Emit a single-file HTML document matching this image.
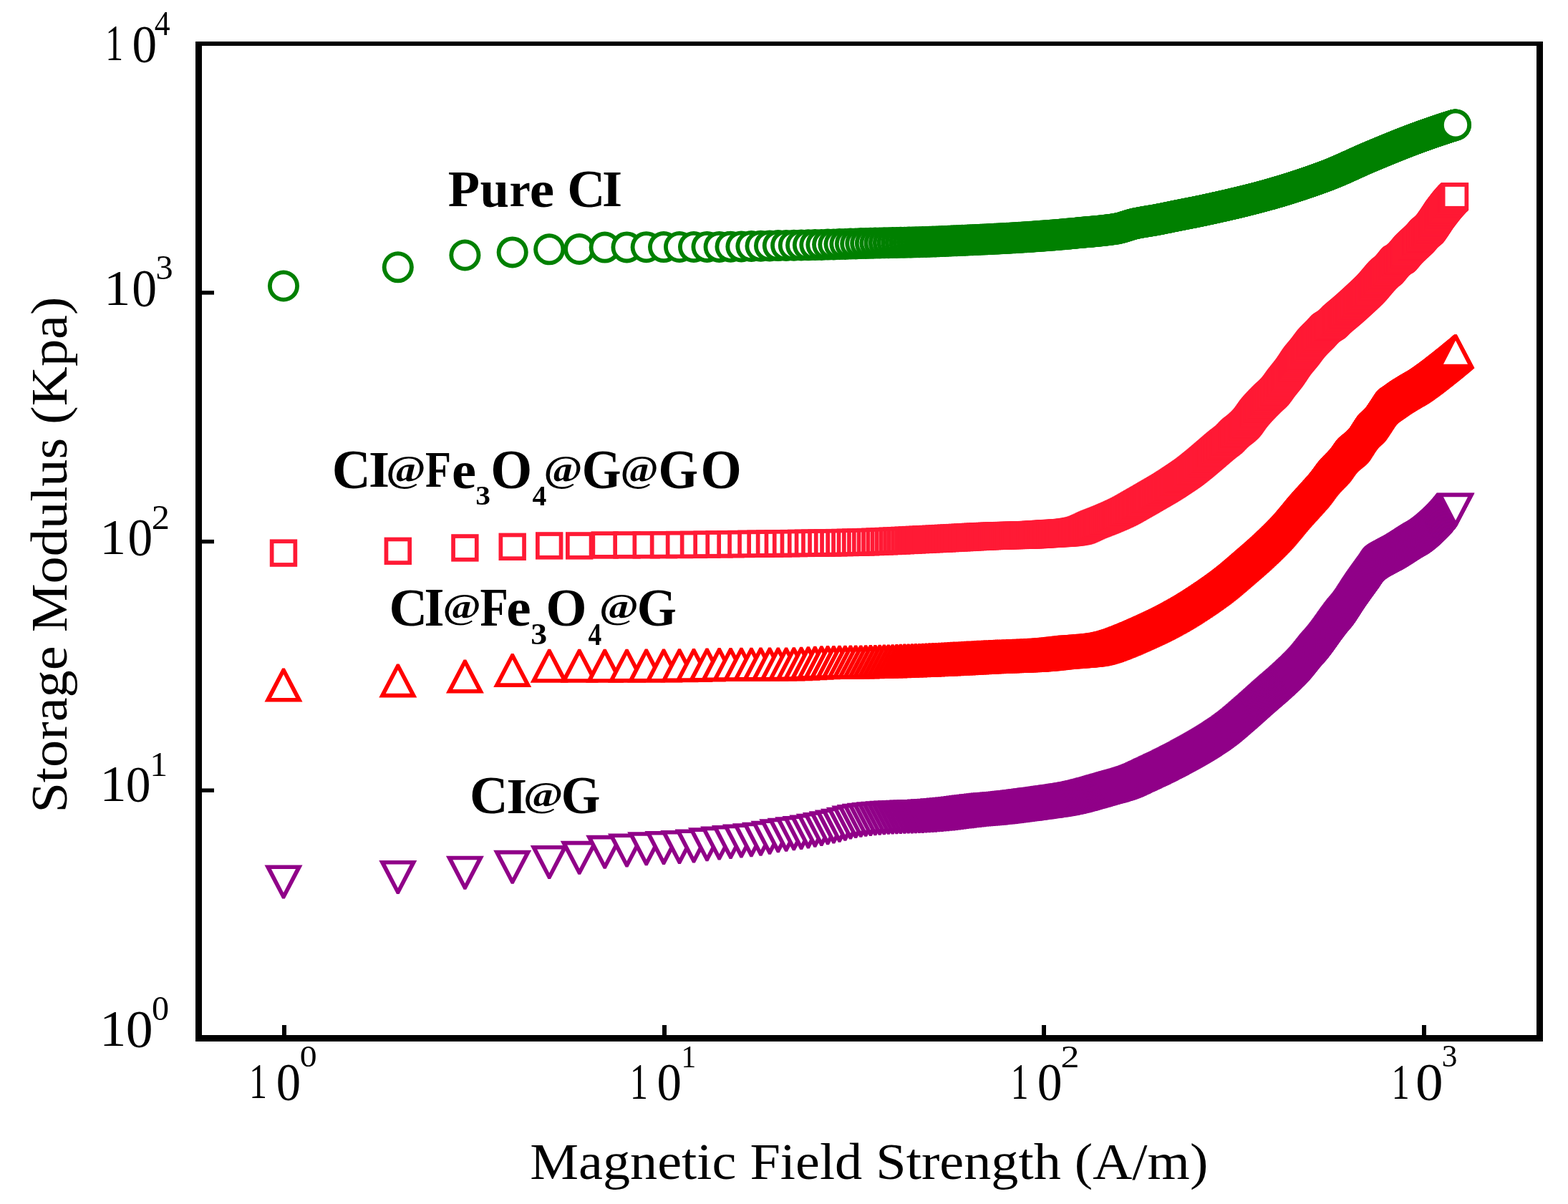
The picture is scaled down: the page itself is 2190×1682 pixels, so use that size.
<!DOCTYPE html>
<html><head><meta charset="utf-8"><title>Storage Modulus vs Magnetic Field Strength</title>
<style>html,body{margin:0;padding:0;background:#fff;}body{width:2190px;height:1682px;overflow:hidden;}svg{display:block;}</style>
</head><body>
<svg width="2190" height="1682" viewBox="0 0 2190 1682" font-family="'Liberation Serif', 'Times New Roman', serif">
<defs><marker id="mc" markerUnits="userSpaceOnUse" viewBox="-40 -40 80 80" markerWidth="80" markerHeight="80" refX="0" refY="0" orient="0" overflow="visible"><circle r="22.0" fill="#008000"/><circle r="16.2" fill="#fff"/></marker><marker id="ms" markerUnits="userSpaceOnUse" viewBox="-40 -40 80 80" markerWidth="80" markerHeight="80" refX="0" refY="0" orient="0" overflow="visible"><rect x="-19.2" y="-19.2" width="38.4" height="38.4" fill="#ff1a35"/><rect x="-13.5" y="-13.5" width="27.0" height="27.0" fill="#fff"/></marker><marker id="mu" markerUnits="userSpaceOnUse" viewBox="-40 -40 80 80" markerWidth="80" markerHeight="80" refX="0" refY="0" orient="0" overflow="visible"><path d="M-1.80 -23.50 L1.80 -23.50 L26.50 23.50 L-26.50 23.50Z" fill="#ff0000"/><path d="M0 -15.00 L17.00 17.90 L-17.00 17.90Z" fill="#fff"/></marker><marker id="md" markerUnits="userSpaceOnUse" viewBox="-40 -40 80 80" markerWidth="80" markerHeight="80" refX="0" refY="0" orient="0" overflow="visible"><path d="M-1.80 23.50 L1.80 23.50 L26.50 -23.50 L-26.50 -23.50Z" fill="#900088"/><path d="M0 15.00 L17.00 -17.90 L-17.00 -17.90Z" fill="#fff"/></marker></defs>
<rect width="2190" height="1682" fill="#fff"/>
<path d="M396.0 399.5 555.8 373.3 649.4 356.5 715.7 352.4 767.2 348.3 809.2 348.0 844.7 345.6 875.5 345.4 902.7 345.2 927.0 345.1 949.0 345.0 969.0 345.0 987.5 344.9 1004.6 344.9 1020.5 344.7 1035.4 344.4 1049.4 344.0 1062.5 343.7 1075.0 343.4 1086.8 343.1 1098.1 342.9 1108.8 342.7 1119.1 342.5 1128.9 342.3 1138.3 342.1 1147.4 341.9 1156.1 341.6 1164.4 341.4 1172.5 341.1 1180.4 340.9 1187.9 340.6 1195.2 340.4 1202.3 340.1 1209.2 339.9 1215.9 339.8 1222.4 339.6 1228.7 339.5 1234.9 339.3 1240.9 339.2 1246.7 339.1 1252.4 339.0 1257.9 338.8 1263.4 338.7 1268.7 338.6 1273.9 338.5 1278.9 338.3 1283.9 338.2 1288.7 338.0 1293.5 337.9 1298.2 337.7 1302.7 337.6 1307.2 337.4 1311.6 337.2 1315.9 337.0 1320.1 336.9 1324.3 336.7 1328.4 336.5 1332.4 336.3 1336.3 336.2 1340.2 336.0 1344.0 335.8 1347.8 335.7 1351.4 335.5 1355.1 335.3 1358.7 335.2 1362.2 335.0 1365.6 334.9 1369.1 334.7 1372.4 334.5 1375.7 334.4 1379.0 334.2 1382.2 334.1 1385.4 333.9 1388.6 333.8 1391.7 333.6 1394.7 333.4 1397.7 333.3 1400.7 333.1 1403.6 333.0 1406.5 332.8 1409.4 332.7 1412.2 332.5 1415.0 332.3 1417.8 332.2 1420.5 332.0 1423.2 331.8 1425.9 331.7 1428.5 331.5 1431.1 331.3 1433.7 331.2 1436.3 331.0 1438.8 330.8 1441.3 330.7 1443.7 330.5 1446.2 330.3 1448.6 330.1 1451.0 330.0 1453.3 329.8 1455.7 329.6 1458.0 329.4 1460.3 329.3 1462.6 329.1 1464.8 328.9 1467.0 328.7 1469.3 328.6 1471.4 328.4 1473.6 328.2 1475.7 328.0 1477.9 327.9 1480.0 327.7 1482.1 327.5 1484.1 327.3 1486.2 327.2 1488.2 327.0 1490.2 326.8 1492.2 326.6 1494.2 326.4 1496.2 326.2 1498.1 326.0 1500.0 325.9 1502.0 325.7 1503.9 325.5 1505.7 325.3 1507.6 325.1 1509.5 325.0 1511.3 324.8 1513.1 324.6 1514.9 324.5 1516.7 324.3 1518.5 324.1 1520.3 324.0 1522.0 323.8 1523.8 323.7 1525.5 323.5 1527.2 323.4 1528.9 323.2 1530.6 323.0 1532.3 322.9 1533.9 322.7 1535.6 322.5 1537.2 322.4 1538.9 322.2 1540.5 322.0 1542.1 321.8 1543.7 321.7 1545.3 321.5 1546.8 321.3 1548.4 321.1 1550.0 320.9 1551.5 320.7 1553.0 320.5 1554.6 320.3 1556.1 320.0 1557.6 319.8 1559.1 319.6 1560.5 319.3 1562.0 319.0 1563.5 318.7 1564.9 318.3 1566.4 317.9 1567.8 317.5 1569.3 317.1 1570.7 316.6 1572.1 316.2 1573.5 315.7 1574.9 315.3 1576.3 314.8 1577.6 314.4 1579.0 314.0 1580.4 313.6 1581.7 313.2 1583.1 312.9 1584.4 312.5 1585.7 312.2 1587.1 312.0 1588.4 311.7 1589.7 311.4 1591.0 311.2 1592.3 310.9 1593.5 310.7 1594.8 310.5 1596.1 310.3 1597.4 310.0 1598.6 309.8 1599.9 309.6 1601.1 309.4 1602.3 309.2 1603.6 309.0 1604.8 308.8 1606.0 308.6 1607.2 308.4 1608.4 308.2 1609.6 308.0 1610.8 307.8 1612.0 307.6 1613.2 307.4 1614.4 307.2 1615.5 307.0 1616.7 306.8 1617.8 306.5 1619.0 306.3 1620.1 306.1 1621.3 305.9 1622.4 305.6 1623.5 305.4 1624.7 305.2 1625.8 305.0 1626.9 304.7 1628.0 304.5 1629.1 304.3 1630.2 304.1 1631.3 303.8 1632.4 303.6 1633.4 303.4 1634.5 303.2 1635.6 302.9 1636.7 302.7 1637.7 302.5 1638.8 302.3 1639.8 302.1 1640.9 301.8 1641.9 301.6 1642.9 301.4 1644.0 301.2 1645.0 301.0 1646.0 300.8 1647.0 300.6 1648.1 300.4 1649.1 300.2 1650.1 300.0 1651.1 299.8 1652.1 299.6 1653.1 299.4 1654.1 299.2 1655.0 299.0 1656.0 298.8 1657.0 298.6 1658.0 298.4 1658.9 298.3 1659.9 298.1 1660.9 297.9 1661.8 297.7 1662.8 297.5 1663.7 297.3 1664.6 297.1 1665.6 297.0 1666.5 296.8 1667.5 296.6 1668.4 296.4 1669.3 296.2 1670.2 296.0 1671.1 295.8 1672.1 295.7 1673.0 295.5 1673.9 295.3 1674.8 295.1 1675.7 294.9 1676.6 294.7 1677.5 294.5 1678.4 294.4 1679.2 294.2 1680.1 294.0 1681.0 293.8 1681.9 293.6 1682.7 293.4 1683.6 293.2 1684.5 293.0 1685.3 292.8 1686.2 292.7 1687.1 292.5 1687.9 292.3 1688.8 292.1 1689.6 291.9 1690.4 291.7 1691.3 291.6 1692.1 291.4 1693.0 291.2 1693.8 291.0 1694.6 290.8 1695.4 290.6 1696.3 290.5 1697.1 290.3 1697.9 290.1 1698.7 289.9 1699.5 289.7 1700.3 289.6 1701.1 289.4 1701.9 289.2 1702.7 289.0 1703.5 288.8 1704.3 288.7 1705.1 288.5 1705.9 288.3 1706.7 288.1 1707.5 288.0 1708.3 287.8 1709.0 287.6 1709.8 287.4 1710.6 287.3 1711.4 287.1 1712.1 286.9 1712.9 286.7 1713.6 286.6 1714.4 286.4 1715.2 286.2 1715.9 286.0 1716.7 285.9 1717.4 285.7 1718.2 285.5 1718.9 285.3 1719.7 285.2 1720.4 285.0 1721.1 284.8 1721.9 284.6 1722.6 284.5 1723.3 284.3 1724.1 284.1 1724.8 284.0 1725.5 283.8 1726.2 283.6 1727.0 283.4 1727.7 283.3 1728.4 283.1 1729.1 282.9 1729.8 282.8 1730.5 282.6 1731.2 282.4 1731.9 282.2 1732.6 282.1 1733.3 281.9 1734.0 281.7 1734.7 281.6 1735.4 281.4 1736.1 281.2 1736.8 281.1 1737.5 280.9 1738.2 280.7 1738.9 280.6 1739.5 280.4 1740.2 280.2 1740.9 280.0 1741.6 279.9 1742.2 279.7 1742.9 279.5 1743.6 279.4 1744.2 279.2 1744.9 279.0 1745.6 278.9 1746.2 278.7 1746.9 278.5 1747.6 278.4 1748.2 278.2 1748.9 278.0 1749.5 277.9 1750.2 277.7 1750.8 277.5 1751.5 277.4 1752.1 277.2 1752.8 277.0 1753.4 276.9 1754.0 276.7 1754.7 276.5 1755.3 276.4 1755.9 276.2 1756.6 276.0 1757.2 275.9 1757.8 275.7 1758.5 275.5 1759.1 275.4 1759.7 275.2 1760.3 275.0 1761.0 274.9 1761.6 274.7 1762.2 274.5 1762.8 274.4 1763.4 274.2 1764.0 274.0 1764.6 273.9 1765.3 273.7 1765.9 273.5 1766.5 273.4 1767.1 273.2 1767.7 273.0 1768.3 272.9 1768.9 272.7 1769.5 272.5 1770.1 272.4 1770.7 272.2 1771.3 272.0 1771.9 271.9 1772.4 271.7 1773.0 271.6 1773.6 271.4 1774.2 271.2 1774.8 271.1 1775.4 270.9 1776.0 270.7 1776.5 270.6 1777.1 270.4 1777.7 270.2 1778.3 270.1 1778.8 269.9 1779.4 269.7 1780.0 269.6 1780.6 269.4 1781.1 269.2 1781.7 269.1 1782.3 268.9 1782.8 268.7 1783.4 268.6 1784.0 268.4 1784.5 268.2 1785.1 268.1 1785.6 267.9 1786.2 267.8 1786.7 267.6 1787.3 267.4 1787.8 267.3 1788.4 267.1 1788.9 266.9 1789.5 266.8 1790.0 266.6 1790.6 266.4 1791.1 266.3 1791.7 266.1 1792.2 265.9 1792.8 265.8 1793.3 265.6 1793.8 265.5 1794.4 265.3 1794.9 265.1 1795.4 265.0 1796.0 264.8 1796.5 264.6 1797.0 264.5 1797.6 264.3 1798.1 264.1 1798.6 264.0 1799.1 263.8 1799.7 263.6 1800.2 263.5 1800.7 263.3 1801.2 263.2 1801.8 263.0 1802.3 262.8 1802.8 262.7 1803.3 262.5 1803.8 262.3 1804.3 262.2 1804.9 262.0 1805.4 261.9 1805.9 261.7 1806.4 261.5 1806.9 261.4 1807.4 261.2 1807.9 261.0 1808.4 260.9 1808.9 260.7 1809.4 260.5 1809.9 260.4 1810.4 260.2 1810.9 260.1 1811.4 259.9 1811.9 259.7 1812.4 259.6 1812.9 259.4 1813.4 259.2 1813.9 259.1 1814.4 258.9 1814.9 258.8 1815.4 258.6 1815.9 258.4 1816.4 258.3 1816.8 258.1 1817.3 258.0 1817.8 257.8 1818.3 257.6 1818.8 257.5 1819.3 257.3 1819.7 257.1 1820.2 257.0 1820.7 256.8 1821.2 256.7 1821.7 256.5 1822.1 256.3 1822.6 256.2 1823.1 256.0 1823.6 255.9 1824.0 255.7 1824.5 255.5 1825.0 255.4 1825.4 255.2 1825.9 255.1 1826.4 254.9 1826.8 254.7 1827.3 254.6 1827.8 254.4 1828.2 254.3 1828.7 254.1 1829.2 253.9 1829.6 253.8 1830.1 253.6 1830.5 253.5 1831.0 253.3 1831.4 253.1 1831.9 253.0 1832.4 252.8 1832.8 252.7 1833.3 252.5 1833.7 252.3 1834.2 252.2 1834.6 252.0 1835.1 251.9 1835.5 251.7 1836.0 251.5 1836.4 251.4 1836.9 251.2 1837.3 251.1 1837.8 250.9 1838.2 250.8 1838.6 250.6 1839.1 250.4 1839.5 250.3 1840.0 250.1 1840.4 250.0 1840.8 249.8 1841.3 249.6 1841.7 249.5 1842.2 249.3 1842.6 249.2 1843.0 249.0 1843.5 248.9 1843.9 248.7 1844.3 248.5 1844.8 248.4 1845.2 248.2 1845.6 248.1 1846.0 247.9 1846.5 247.8 1846.9 247.6 1847.3 247.4 1847.8 247.3 1848.2 247.1 1848.6 247.0 1849.0 246.8 1849.4 246.7 1849.9 246.5 1850.3 246.3 1850.7 246.2 1851.1 246.0 1851.6 245.9 1852.0 245.7 1852.4 245.6 1852.8 245.4 1853.2 245.3 1853.6 245.1 1854.0 244.9 1854.5 244.8 1854.9 244.6 1855.3 244.5 1855.7 244.3 1856.1 244.1 1856.5 244.0 1856.9 243.8 1857.3 243.7 1857.7 243.5 1858.2 243.3 1858.6 243.2 1859.0 243.0 1859.4 242.9 1859.8 242.7 1860.2 242.5 1860.6 242.4 1861.0 242.2 1861.4 242.0 1861.8 241.9 1862.2 241.7 1862.6 241.5 1863.0 241.4 1863.4 241.2 1863.8 241.1 1864.2 240.9 1864.6 240.7 1865.0 240.6 1865.4 240.4 1865.8 240.2 1866.1 240.1 1866.5 239.9 1866.9 239.7 1867.3 239.6 1867.7 239.4 1868.1 239.2 1868.5 239.1 1868.9 238.9 1869.3 238.7 1869.7 238.6 1870.0 238.4 1870.4 238.2 1870.8 238.1 1871.2 237.9 1871.6 237.7 1872.0 237.6 1872.3 237.4 1872.7 237.2 1873.1 237.1 1873.5 236.9 1873.9 236.7 1874.3 236.6 1874.6 236.4 1875.0 236.2 1875.4 236.1 1875.8 235.9 1876.1 235.7 1876.5 235.6 1876.9 235.4 1877.3 235.2 1877.6 235.1 1878.0 234.9 1878.4 234.7 1878.8 234.6 1879.1 234.4 1879.5 234.2 1879.9 234.1 1880.2 233.9 1880.6 233.7 1881.0 233.6 1881.3 233.4 1881.7 233.2 1882.1 233.1 1882.4 232.9 1882.8 232.7 1883.2 232.6 1883.5 232.4 1883.9 232.2 1884.3 232.1 1884.6 231.9 1885.0 231.7 1885.4 231.6 1885.7 231.4 1886.1 231.3 1886.4 231.1 1886.8 230.9 1887.2 230.8 1887.5 230.6 1887.9 230.4 1888.2 230.3 1888.6 230.1 1888.9 230.0 1889.3 229.8 1889.7 229.6 1890.0 229.5 1890.4 229.3 1890.7 229.1 1891.1 229.0 1891.4 228.8 1891.8 228.7 1892.1 228.5 1892.5 228.3 1892.8 228.2 1893.2 228.0 1893.5 227.9 1893.9 227.7 1894.2 227.6 1894.6 227.4 1894.9 227.2 1895.3 227.1 1895.6 226.9 1896.0 226.8 1896.3 226.6 1896.6 226.5 1897.0 226.3 1897.3 226.1 1897.7 226.0 1898.0 225.8 1898.4 225.7 1898.7 225.5 1899.0 225.4 1899.4 225.2 1899.7 225.1 1900.1 224.9 1900.4 224.8 1900.7 224.6 1901.1 224.5 1901.4 224.3 1901.8 224.2 1902.1 224.0 1902.4 223.9 1902.8 223.7 1903.1 223.6 1903.4 223.4 1903.8 223.3 1904.1 223.1 1904.4 223.0 1904.8 222.8 1905.1 222.7 1905.4 222.5 1905.8 222.4 1906.1 222.2 1906.4 222.1 1906.7 222.0 1907.1 221.8 1907.4 221.7 1907.7 221.5 1908.1 221.4 1908.4 221.2 1908.7 221.1 1909.0 221.0 1909.4 220.8 1909.7 220.7 1910.0 220.5 1910.3 220.4 1910.7 220.3 1911.0 220.1 1911.3 220.0 1911.6 219.8 1912.0 219.7 1912.3 219.6 1912.6 219.4 1912.9 219.3 1913.2 219.2 1913.6 219.0 1913.9 218.9 1914.2 218.8 1914.5 218.6 1914.8 218.5 1915.2 218.4 1915.5 218.2 1915.8 218.1 1916.1 218.0 1916.4 217.8 1916.7 217.7 1917.1 217.6 1917.4 217.4 1917.7 217.3 1918.0 217.2 1918.3 217.0 1918.6 216.9 1918.9 216.8 1919.3 216.7 1919.6 216.5 1919.9 216.4 1920.2 216.3 1920.5 216.1 1920.8 216.0 1921.1 215.9 1921.4 215.7 1921.7 215.6 1922.0 215.5 1922.3 215.4 1922.7 215.2 1923.0 215.1 1923.3 215.0 1923.6 214.9 1923.9 214.7 1924.2 214.6 1924.5 214.5 1924.8 214.3 1925.1 214.2 1925.4 214.1 1925.7 214.0 1926.0 213.8 1926.3 213.7 1926.6 213.6 1926.9 213.5 1927.2 213.3 1927.5 213.2 1927.8 213.1 1928.1 213.0 1928.4 212.8 1928.7 212.7 1929.0 212.6 1929.3 212.5 1929.6 212.3 1929.9 212.2 1930.2 212.1 1930.5 212.0 1930.8 211.8 1931.1 211.7 1931.4 211.6 1931.7 211.5 1932.0 211.4 1932.3 211.2 1932.6 211.1 1932.9 211.0 1933.2 210.9 1933.5 210.7 1933.8 210.6 1934.1 210.5 1934.3 210.4 1934.6 210.3 1934.9 210.1 1935.2 210.0 1935.5 209.9 1935.8 209.8 1936.1 209.7 1936.4 209.5 1936.7 209.4 1937.0 209.3 1937.3 209.2 1937.5 209.1 1937.8 208.9 1938.1 208.8 1938.4 208.7 1938.7 208.6 1939.0 208.5 1939.3 208.4 1939.5 208.2 1939.8 208.1 1940.1 208.0 1940.4 207.9 1940.7 207.8 1941.0 207.7 1941.3 207.5 1941.5 207.4 1941.8 207.3 1942.1 207.2 1942.4 207.1 1942.7 207.0 1943.0 206.8 1943.2 206.7 1943.5 206.6 1943.8 206.5 1944.1 206.4 1944.4 206.3 1944.6 206.2 1944.9 206.0 1945.2 205.9 1945.5 205.8 1945.8 205.7 1946.0 205.6 1946.3 205.5 1946.6 205.4 1946.9 205.3 1947.1 205.1 1947.4 205.0 1947.7 204.9 1948.0 204.8 1948.2 204.7 1948.5 204.6 1948.8 204.5 1949.1 204.4 1949.3 204.3 1949.6 204.1 1949.9 204.0 1950.2 203.9 1950.4 203.8 1950.7 203.7 1951.0 203.6 1951.2 203.5 1951.5 203.4 1951.8 203.3 1952.1 203.2 1952.3 203.1 1952.6 202.9 1952.9 202.8 1953.1 202.7 1953.4 202.6 1953.7 202.5 1954.0 202.4 1954.2 202.3 1954.5 202.2 1954.8 202.1 1955.0 202.0 1955.3 201.9 1955.6 201.8 1955.8 201.7 1956.1 201.6 1956.4 201.5 1956.6 201.3 1956.9 201.2 1957.1 201.1 1957.4 201.0 1957.7 200.9 1957.9 200.8 1958.2 200.7 1958.5 200.6 1958.7 200.5 1959.0 200.4 1959.3 200.3 1959.5 200.2 1959.8 200.1 1960.0 200.0 1960.3 199.9 1960.6 199.8 1960.8 199.7 1961.1 199.6 1961.3 199.5 1961.6 199.4 1961.9 199.3 1962.1 199.2 1962.4 199.1 1962.6 199.0 1962.9 198.9 1963.2 198.8 1963.4 198.7 1963.7 198.6 1963.9 198.5 1964.2 198.4 1964.4 198.3 1964.7 198.2 1965.0 198.1 1965.2 198.0 1965.5 197.9 1965.7 197.8 1966.0 197.7 1966.2 197.6 1966.5 197.5 1966.7 197.4 1967.0 197.3 1967.3 197.2 1967.5 197.1 1967.8 197.0 1968.0 196.9 1968.3 196.8 1968.5 196.7 1968.8 196.6 1969.0 196.5 1969.3 196.4 1969.5 196.3 1969.8 196.2 1970.0 196.1 1970.3 196.0 1970.5 195.9 1970.8 195.8 1971.0 195.8 1971.3 195.7 1971.5 195.6 1971.8 195.5 1972.0 195.4 1972.3 195.3 1972.5 195.2 1972.8 195.1 1973.0 195.0 1973.3 194.9 1973.5 194.8 1973.7 194.7 1974.0 194.6 1974.2 194.5 1974.5 194.5 1974.7 194.4 1975.0 194.3 1975.2 194.2 1975.5 194.1 1975.7 194.0 1976.0 193.9 1976.2 193.8 1976.4 193.7 1976.7 193.6 1976.9 193.5 1977.2 193.5 1977.4 193.4 1977.7 193.3 1977.9 193.2 1978.1 193.1 1978.4 193.0 1978.6 192.9 1978.9 192.8 1979.1 192.7 1979.3 192.7 1979.6 192.6 1979.8 192.5 1980.1 192.4 1980.3 192.3 1980.5 192.2 1980.8 192.1 1981.0 192.0 1981.3 192.0 1981.5 191.9 1981.7 191.8 1982.0 191.7 1982.2 191.6 1982.5 191.5 1982.7 191.4 1982.9 191.3 1983.2 191.3 1983.4 191.2 1983.6 191.1 1983.9 191.0 1984.1 190.9 1984.3 190.8 1984.6 190.7 1984.8 190.7 1985.0 190.6 1985.3 190.5 1985.5 190.4 1985.7 190.3 1986.0 190.2 1986.2 190.2 1986.4 190.1 1986.7 190.0 1986.9 189.9 1987.1 189.8 1987.4 189.7 1987.6 189.7 1987.8 189.6 1988.1 189.5 1988.3 189.4 1988.5 189.3 1988.8 189.2 1989.0 189.2 1989.2 189.1 1989.5 189.0 1989.7 188.9 1989.9 188.8 1990.2 188.7 1990.4 188.7 1990.6 188.6 1990.8 188.5 1991.1 188.4 1991.3 188.3 1991.5 188.3 1991.8 188.2 1992.0 188.1 1992.2 188.0 1992.4 187.9 1992.7 187.9 1992.9 187.8 1993.1 187.7 1993.3 187.6 1993.6 187.5 1993.8 187.5 1994.0 187.4 1994.2 187.3 1994.5 187.2 1994.7 187.1 1994.9 187.1 1995.1 187.0 1995.4 186.9 1995.6 186.8 1995.8 186.7 1996.0 186.7 1996.3 186.6 1996.5 186.5 1996.7 186.4 1996.9 186.4 1997.2 186.3 1997.4 186.2 1997.6 186.1 1997.8 186.0 1998.0 186.0 1998.3 185.9 1998.5 185.8 1998.7 185.7 1998.9 185.7 1999.2 185.6 1999.4 185.5 1999.6 185.4 1999.8 185.3 2000.0 185.3 2000.3 185.2 2000.5 185.1 2000.7 185.0 2000.9 185.0 2001.1 184.9 2001.3 184.8 2001.6 184.7 2001.8 184.7 2002.0 184.6 2002.2 184.5 2002.4 184.4 2002.7 184.4 2002.9 184.3 2003.1 184.2 2003.3 184.1 2003.5 184.1 2003.7 184.0 2004.0 183.9 2004.2 183.8 2004.4 183.8 2004.6 183.7 2004.8 183.6 2005.0 183.6 2005.2 183.5 2005.5 183.4 2005.7 183.3 2005.9 183.3 2006.1 183.2 2006.3 183.1 2006.5 183.0 2006.7 183.0 2007.0 182.9 2007.2 182.8 2007.4 182.8 2007.6 182.7 2007.8 182.6 2008.0 182.5 2008.2 182.5 2008.4 182.4 2008.7 182.3 2008.9 182.2 2009.1 182.2 2009.3 182.1 2009.5 182.0 2009.7 182.0 2009.9 181.9 2010.1 181.8 2010.3 181.8 2010.6 181.7 2010.8 181.6 2011.0 181.5 2011.2 181.5 2011.4 181.4 2011.6 181.3 2011.8 181.3 2012.0 181.2 2012.2 181.1 2012.4 181.0 2012.7 181.0 2012.9 180.9 2013.1 180.8 2013.3 180.8 2013.5 180.7 2013.7 180.6 2013.9 180.6 2014.1 180.5 2014.3 180.4 2014.5 180.4 2014.7 180.3 2014.9 180.2 2015.1 180.2 2015.3 180.1 2015.5 180.0 2015.8 179.9 2016.0 179.9 2016.2 179.8 2016.4 179.7 2016.6 179.7 2016.8 179.6 2017.0 179.5 2017.2 179.5 2017.4 179.4 2017.6 179.3 2017.8 179.3 2018.0 179.2 2018.2 179.1 2018.4 179.1 2018.6 179.0 2018.8 178.9 2019.0 178.9 2019.2 178.8 2019.4 178.7 2019.6 178.7 2019.8 178.6 2020.0 178.5 2020.2 178.5 2020.4 178.4 2020.6 178.3 2020.8 178.3 2021.0 178.2 2021.2 178.2 2021.4 178.1 2021.6 178.0 2021.8 178.0 2022.0 177.9 2022.2 177.8 2022.4 177.8 2022.6 177.7 2022.8 177.6 2023.0 177.6 2023.2 177.5 2023.4 177.4 2023.6 177.4 2023.8 177.3 2024.0 177.3 2024.2 177.2 2024.4 177.1 2024.6 177.1 2024.8 177.0 2025.0 176.9 2025.2 176.9 2025.4 176.8 2025.6 176.7 2025.8 176.7 2026.0 176.6 2026.2 176.6 2026.4 176.5 2026.6 176.4 2026.8 176.4 2027.0 176.3 2027.2 176.2 2027.4 176.2 2027.6 176.1 2027.8 176.1 2027.9 176.0 2028.1 175.9 2028.3 175.9 2028.5 175.8 2028.7 175.7 2028.9 175.7 2029.1 175.6 2029.3 175.6 2029.5 175.5 2029.7 175.4 2029.9 175.4 2030.1 175.3 2030.3 175.3 2030.5 175.2 2030.7 175.1 2030.9 175.1 2031.0 175.0 2031.2 175.0 2031.4 174.9 2031.6 174.8 2031.8 174.8 2032.0 174.7 2032.2 174.7 2032.4 174.6 2032.6 174.5 2032.8 174.5 2033.0 174.4" fill="none" stroke="none" marker-start="url(#mc)" marker-mid="url(#mc)" marker-end="url(#mc)"/>
<path d="M396.0 772.6 555.8 769.8 649.4 765.4 715.7 763.8 767.2 762.4 809.2 762.4 844.7 761.5 875.5 761.4 902.7 761.3 927.0 761.2 949.0 761.0 969.0 760.9 987.5 760.6 1004.6 760.4 1020.5 760.2 1035.4 760.0 1049.4 759.8 1062.5 759.7 1075.0 759.5 1086.8 759.4 1098.1 759.2 1108.8 759.1 1119.1 758.9 1128.9 758.8 1138.3 758.7 1147.4 758.5 1156.1 758.4 1164.4 758.3 1172.5 758.1 1180.4 758.0 1187.9 757.8 1195.2 757.6 1202.3 757.5 1209.2 757.3 1215.9 757.0 1222.4 756.8 1228.7 756.5 1234.9 756.3 1240.9 756.0 1246.7 755.7 1252.4 755.5 1257.9 755.2 1263.4 754.9 1268.7 754.7 1273.9 754.4 1278.9 754.1 1283.9 753.9 1288.7 753.7 1293.5 753.4 1298.2 753.2 1302.7 753.0 1307.2 752.8 1311.6 752.6 1315.9 752.4 1320.1 752.1 1324.3 751.9 1328.4 751.7 1332.4 751.5 1336.3 751.3 1340.2 751.1 1344.0 750.9 1347.8 750.7 1351.4 750.5 1355.1 750.3 1358.7 750.1 1362.2 749.9 1365.6 749.7 1369.1 749.6 1372.4 749.4 1375.7 749.3 1379.0 749.1 1382.2 749.0 1385.4 748.8 1388.6 748.7 1391.7 748.6 1394.7 748.5 1397.7 748.4 1400.7 748.3 1403.6 748.2 1406.5 748.1 1409.4 748.1 1412.2 748.0 1415.0 747.9 1417.8 747.9 1420.5 747.8 1423.2 747.8 1425.9 747.7 1428.5 747.6 1431.1 747.5 1433.7 747.4 1436.3 747.3 1438.8 747.2 1441.3 747.1 1443.7 747.0 1446.2 746.8 1448.6 746.7 1451.0 746.5 1453.3 746.4 1455.7 746.2 1458.0 746.1 1460.3 745.9 1462.6 745.8 1464.8 745.6 1467.0 745.5 1469.3 745.4 1471.4 745.2 1473.6 745.1 1475.7 745.0 1477.9 744.9 1480.0 744.8 1482.1 744.6 1484.1 744.5 1486.2 744.3 1488.2 744.2 1490.2 744.0 1492.2 743.8 1494.2 743.5 1496.2 743.3 1498.1 743.0 1500.0 742.7 1502.0 742.3 1503.9 742.0 1505.7 741.6 1507.6 741.1 1509.5 740.5 1511.3 739.9 1513.1 739.1 1514.9 738.3 1516.7 737.5 1518.5 736.7 1520.3 735.8 1522.0 735.0 1523.8 734.2 1525.5 733.4 1527.2 732.7 1528.9 732.0 1530.6 731.4 1532.3 730.7 1533.9 730.1 1535.6 729.4 1537.2 728.8 1538.9 728.2 1540.5 727.5 1542.1 726.9 1543.7 726.3 1545.3 725.6 1546.8 725.0 1548.4 724.3 1550.0 723.6 1551.5 723.0 1553.0 722.3 1554.6 721.7 1556.1 721.0 1557.6 720.4 1559.1 719.7 1560.5 719.0 1562.0 718.3 1563.5 717.7 1564.9 717.0 1566.4 716.3 1567.8 715.6 1569.3 714.9 1570.7 714.2 1572.1 713.4 1573.5 712.7 1574.9 711.9 1576.3 711.2 1577.6 710.4 1579.0 709.6 1580.4 708.8 1581.7 708.1 1583.1 707.3 1584.4 706.5 1585.7 705.7 1587.1 705.0 1588.4 704.2 1589.7 703.5 1591.0 702.7 1592.3 702.0 1593.5 701.3 1594.8 700.6 1596.1 699.8 1597.4 699.1 1598.6 698.4 1599.9 697.7 1601.1 697.0 1602.3 696.2 1603.6 695.5 1604.8 694.8 1606.0 694.1 1607.2 693.4 1608.4 692.7 1609.6 692.0 1610.8 691.3 1612.0 690.6 1613.2 689.9 1614.4 689.3 1615.5 688.6 1616.7 687.9 1617.8 687.2 1619.0 686.6 1620.1 685.9 1621.3 685.2 1622.4 684.6 1623.5 683.9 1624.7 683.2 1625.8 682.6 1626.9 681.9 1628.0 681.2 1629.1 680.6 1630.2 679.9 1631.3 679.2 1632.4 678.5 1633.4 677.8 1634.5 677.1 1635.6 676.5 1636.7 675.8 1637.7 675.1 1638.8 674.4 1639.8 673.7 1640.9 673.0 1641.9 672.3 1642.9 671.6 1644.0 671.0 1645.0 670.3 1646.0 669.6 1647.0 668.9 1648.1 668.2 1649.1 667.6 1650.1 666.9 1651.1 666.2 1652.1 665.5 1653.1 664.9 1654.1 664.2 1655.0 663.5 1656.0 662.8 1657.0 662.2 1658.0 661.5 1658.9 660.8 1659.9 660.1 1660.9 659.4 1661.8 658.7 1662.8 657.9 1663.7 657.2 1664.6 656.5 1665.6 655.8 1666.5 655.0 1667.5 654.3 1668.4 653.5 1669.3 652.8 1670.2 652.1 1671.1 651.3 1672.1 650.6 1673.0 649.8 1673.9 649.1 1674.8 648.4 1675.7 647.6 1676.6 646.9 1677.5 646.1 1678.4 645.4 1679.2 644.7 1680.1 643.9 1681.0 643.2 1681.9 642.4 1682.7 641.7 1683.6 640.9 1684.5 640.2 1685.3 639.5 1686.2 638.7 1687.1 638.0 1687.9 637.3 1688.8 636.5 1689.6 635.8 1690.4 635.1 1691.3 634.4 1692.1 633.7 1693.0 633.0 1693.8 632.2 1694.6 631.5 1695.4 630.8 1696.3 630.1 1697.1 629.4 1697.9 628.7 1698.7 628.0 1699.5 627.3 1700.3 626.6 1701.1 625.9 1701.9 625.3 1702.7 624.6 1703.5 623.9 1704.3 623.2 1705.1 622.6 1705.9 621.9 1706.7 621.3 1707.5 620.6 1708.3 620.0 1709.0 619.4 1709.8 618.8 1710.6 618.3 1711.4 617.7 1712.1 617.1 1712.9 616.5 1713.6 615.9 1714.4 615.3 1715.2 614.7 1715.9 614.1 1716.7 613.4 1717.4 612.7 1718.2 611.9 1718.9 611.2 1719.7 610.4 1720.4 609.6 1721.1 608.8 1721.9 608.1 1722.6 607.3 1723.3 606.6 1724.1 605.9 1724.8 605.2 1725.5 604.6 1726.2 603.9 1727.0 603.4 1727.7 602.8 1728.4 602.2 1729.1 601.7 1729.8 601.2 1730.5 600.6 1731.2 600.1 1731.9 599.5 1732.6 599.0 1733.3 598.4 1734.0 597.8 1734.7 597.2 1735.4 596.5 1736.1 595.9 1736.8 595.3 1737.5 594.6 1738.2 594.0 1738.9 593.3 1739.5 592.6 1740.2 591.9 1740.9 591.1 1741.6 590.3 1742.2 589.5 1742.9 588.7 1743.6 587.8 1744.2 586.9 1744.9 586.0 1745.6 585.0 1746.2 584.1 1746.9 583.1 1747.6 582.2 1748.2 581.3 1748.9 580.3 1749.5 579.4 1750.2 578.5 1750.8 577.7 1751.5 576.9 1752.1 576.1 1752.8 575.3 1753.4 574.5 1754.0 573.8 1754.7 573.1 1755.3 572.3 1755.9 571.6 1756.6 570.9 1757.2 570.2 1757.8 569.5 1758.5 568.8 1759.1 568.2 1759.7 567.5 1760.3 566.8 1761.0 566.2 1761.6 565.5 1762.2 564.9 1762.8 564.3 1763.4 563.6 1764.0 563.0 1764.6 562.4 1765.3 561.8 1765.9 561.1 1766.5 560.5 1767.1 559.9 1767.7 559.3 1768.3 558.7 1768.9 558.1 1769.5 557.5 1770.1 556.9 1770.7 556.3 1771.3 555.8 1771.9 555.2 1772.4 554.7 1773.0 554.1 1773.6 553.6 1774.2 553.1 1774.8 552.6 1775.4 552.0 1776.0 551.5 1776.5 551.0 1777.1 550.4 1777.7 549.9 1778.3 549.3 1778.8 548.7 1779.4 548.1 1780.0 547.5 1780.6 546.9 1781.1 546.2 1781.7 545.5 1782.3 544.8 1782.8 544.1 1783.4 543.3 1784.0 542.6 1784.5 541.8 1785.1 541.0 1785.6 540.3 1786.2 539.5 1786.7 538.7 1787.3 538.0 1787.8 537.2 1788.4 536.4 1788.9 535.7 1789.5 535.0 1790.0 534.2 1790.6 533.5 1791.1 532.8 1791.7 532.2 1792.2 531.5 1792.8 530.8 1793.3 530.1 1793.8 529.5 1794.4 528.8 1794.9 528.1 1795.4 527.5 1796.0 526.8 1796.5 526.1 1797.0 525.5 1797.6 524.8 1798.1 524.1 1798.6 523.4 1799.1 522.8 1799.7 522.1 1800.2 521.4 1800.7 520.7 1801.2 520.0 1801.8 519.2 1802.3 518.5 1802.8 517.8 1803.3 517.0 1803.8 516.2 1804.3 515.5 1804.9 514.7 1805.4 513.9 1805.9 513.2 1806.4 512.4 1806.9 511.6 1807.4 510.8 1807.9 510.1 1808.4 509.3 1808.9 508.6 1809.4 507.8 1809.9 507.1 1810.4 506.4 1810.9 505.7 1811.4 505.0 1811.9 504.3 1812.4 503.6 1812.9 503.0 1813.4 502.4 1813.9 501.8 1814.4 501.1 1814.9 500.5 1815.4 500.0 1815.9 499.4 1816.4 498.8 1816.8 498.2 1817.3 497.6 1817.8 497.1 1818.3 496.5 1818.8 495.9 1819.3 495.3 1819.7 494.8 1820.2 494.2 1820.7 493.6 1821.2 493.0 1821.7 492.4 1822.1 491.8 1822.6 491.2 1823.1 490.6 1823.6 490.0 1824.0 489.4 1824.5 488.7 1825.0 488.1 1825.4 487.5 1825.9 486.8 1826.4 486.2 1826.8 485.6 1827.3 485.0 1827.8 484.3 1828.2 483.7 1828.7 483.1 1829.2 482.5 1829.6 481.9 1830.1 481.3 1830.5 480.8 1831.0 480.2 1831.4 479.6 1831.9 479.1 1832.4 478.6 1832.8 478.1 1833.3 477.6 1833.7 477.1 1834.2 476.6 1834.6 476.1 1835.1 475.6 1835.5 475.2 1836.0 474.7 1836.4 474.3 1836.9 473.8 1837.3 473.4 1837.8 472.9 1838.2 472.5 1838.6 472.0 1839.1 471.6 1839.5 471.2 1840.0 470.7 1840.4 470.3 1840.8 469.9 1841.3 469.4 1841.7 469.0 1842.2 468.6 1842.6 468.1 1843.0 467.7 1843.5 467.3 1843.9 466.8 1844.3 466.4 1844.8 465.9 1845.2 465.4 1845.6 465.0 1846.0 464.5 1846.5 464.0 1846.9 463.5 1847.3 463.1 1847.8 462.6 1848.2 462.1 1848.6 461.7 1849.0 461.2 1849.4 460.8 1849.9 460.4 1850.3 459.9 1850.7 459.5 1851.1 459.1 1851.6 458.8 1852.0 458.4 1852.4 458.1 1852.8 457.8 1853.2 457.5 1853.6 457.2 1854.0 456.9 1854.5 456.6 1854.9 456.4 1855.3 456.1 1855.7 455.9 1856.1 455.6 1856.5 455.4 1856.9 455.1 1857.3 454.9 1857.7 454.6 1858.2 454.3 1858.6 454.1 1859.0 453.8 1859.4 453.5 1859.8 453.2 1860.2 452.9 1860.6 452.5 1861.0 452.2 1861.4 451.8 1861.8 451.4 1862.2 451.1 1862.6 450.7 1863.0 450.3 1863.4 449.9 1863.8 449.5 1864.2 449.1 1864.6 448.7 1865.0 448.3 1865.4 447.9 1865.8 447.5 1866.1 447.1 1866.5 446.7 1866.9 446.4 1867.3 446.0 1867.7 445.7 1868.1 445.3 1868.5 445.0 1868.9 444.6 1869.3 444.3 1869.7 443.9 1870.0 443.6 1870.4 443.3 1870.8 442.9 1871.2 442.6 1871.6 442.3 1872.0 442.0 1872.3 441.6 1872.7 441.3 1873.1 441.0 1873.5 440.7 1873.9 440.4 1874.3 440.1 1874.6 439.7 1875.0 439.4 1875.4 439.1 1875.8 438.8 1876.1 438.5 1876.5 438.2 1876.9 437.9 1877.3 437.5 1877.6 437.2 1878.0 436.9 1878.4 436.6 1878.8 436.3 1879.1 436.0 1879.5 435.7 1879.9 435.4 1880.2 435.0 1880.6 434.7 1881.0 434.4 1881.3 434.1 1881.7 433.8 1882.1 433.5 1882.4 433.1 1882.8 432.8 1883.2 432.5 1883.5 432.2 1883.9 431.9 1884.3 431.5 1884.6 431.2 1885.0 430.9 1885.4 430.6 1885.7 430.3 1886.1 429.9 1886.4 429.6 1886.8 429.3 1887.2 429.0 1887.5 428.7 1887.9 428.3 1888.2 428.0 1888.6 427.7 1888.9 427.4 1889.3 427.1 1889.7 426.7 1890.0 426.4 1890.4 426.1 1890.7 425.8 1891.1 425.4 1891.4 425.1 1891.8 424.8 1892.1 424.5 1892.5 424.2 1892.8 423.9 1893.2 423.5 1893.5 423.2 1893.9 422.9 1894.2 422.6 1894.6 422.3 1894.9 421.9 1895.3 421.6 1895.6 421.3 1896.0 421.0 1896.3 420.7 1896.6 420.4 1897.0 420.0 1897.3 419.7 1897.7 419.4 1898.0 419.1 1898.4 418.8 1898.7 418.5 1899.0 418.1 1899.4 417.8 1899.7 417.5 1900.1 417.2 1900.4 416.9 1900.7 416.6 1901.1 416.3 1901.4 416.0 1901.8 415.6 1902.1 415.3 1902.4 415.0 1902.8 414.7 1903.1 414.4 1903.4 414.1 1903.8 413.8 1904.1 413.5 1904.4 413.2 1904.8 412.9 1905.1 412.5 1905.4 412.2 1905.8 411.9 1906.1 411.6 1906.4 411.3 1906.7 411.0 1907.1 410.7 1907.4 410.4 1907.7 410.1 1908.1 409.8 1908.4 409.4 1908.7 409.1 1909.0 408.8 1909.4 408.5 1909.7 408.2 1910.0 407.9 1910.3 407.5 1910.7 407.2 1911.0 406.9 1911.3 406.6 1911.6 406.3 1912.0 406.0 1912.3 405.6 1912.6 405.3 1912.9 405.0 1913.2 404.7 1913.6 404.3 1913.9 404.0 1914.2 403.7 1914.5 403.3 1914.8 403.0 1915.2 402.7 1915.5 402.3 1915.8 402.0 1916.1 401.6 1916.4 401.3 1916.7 400.9 1917.1 400.6 1917.4 400.2 1917.7 399.9 1918.0 399.5 1918.3 399.1 1918.6 398.8 1918.9 398.4 1919.3 398.1 1919.6 397.7 1919.9 397.3 1920.2 397.0 1920.5 396.6 1920.8 396.2 1921.1 395.9 1921.4 395.5 1921.7 395.1 1922.0 394.8 1922.3 394.4 1922.7 394.0 1923.0 393.7 1923.3 393.3 1923.6 392.9 1923.9 392.6 1924.2 392.2 1924.5 391.9 1924.8 391.5 1925.1 391.1 1925.4 390.8 1925.7 390.4 1926.0 390.1 1926.3 389.7 1926.6 389.4 1926.9 389.0 1927.2 388.7 1927.5 388.3 1927.8 388.0 1928.1 387.7 1928.4 387.3 1928.7 387.0 1929.0 386.7 1929.3 386.3 1929.6 386.0 1929.9 385.7 1930.2 385.4 1930.5 385.0 1930.8 384.7 1931.1 384.4 1931.4 384.1 1931.7 383.8 1932.0 383.5 1932.3 383.2 1932.6 382.9 1932.9 382.7 1933.2 382.4 1933.5 382.1 1933.8 381.8 1934.1 381.5 1934.3 381.3 1934.6 381.0 1934.9 380.8 1935.2 380.6 1935.5 380.3 1935.8 380.1 1936.1 379.9 1936.4 379.6 1936.7 379.4 1937.0 379.2 1937.3 379.0 1937.5 378.7 1937.8 378.5 1938.1 378.3 1938.4 378.0 1938.7 377.8 1939.0 377.5 1939.3 377.3 1939.5 377.0 1939.8 376.7 1940.1 376.4 1940.4 376.1 1940.7 375.8 1941.0 375.5 1941.3 375.1 1941.5 374.8 1941.8 374.5 1942.1 374.1 1942.4 373.8 1942.7 373.5 1943.0 373.1 1943.2 372.8 1943.5 372.4 1943.8 372.1 1944.1 371.7 1944.4 371.4 1944.6 371.0 1944.9 370.7 1945.2 370.3 1945.5 370.0 1945.8 369.6 1946.0 369.3 1946.3 368.9 1946.6 368.6 1946.9 368.3 1947.1 368.0 1947.4 367.6 1947.7 367.3 1948.0 367.0 1948.2 366.7 1948.5 366.4 1948.8 366.1 1949.1 365.8 1949.3 365.6 1949.6 365.3 1949.9 365.0 1950.2 364.8 1950.4 364.6 1950.7 364.3 1951.0 364.1 1951.2 363.9 1951.5 363.7 1951.8 363.5 1952.1 363.4 1952.3 363.2 1952.6 363.0 1952.9 362.9 1953.1 362.7 1953.4 362.6 1953.7 362.4 1954.0 362.3 1954.2 362.2 1954.5 362.0 1954.8 361.8 1955.0 361.7 1955.3 361.5 1955.6 361.3 1955.8 361.1 1956.1 360.9 1956.4 360.7 1956.6 360.5 1956.9 360.3 1957.1 360.0 1957.4 359.8 1957.7 359.5 1957.9 359.3 1958.2 359.0 1958.5 358.8 1958.7 358.5 1959.0 358.2 1959.3 357.9 1959.5 357.6 1959.8 357.3 1960.0 357.0 1960.3 356.7 1960.6 356.4 1960.8 356.1 1961.1 355.8 1961.3 355.5 1961.6 355.2 1961.9 354.9 1962.1 354.6 1962.4 354.3 1962.6 353.9 1962.9 353.6 1963.2 353.3 1963.4 353.0 1963.7 352.7 1963.9 352.4 1964.2 352.1 1964.4 351.8 1964.7 351.4 1965.0 351.1 1965.2 350.8 1965.5 350.5 1965.7 350.2 1966.0 350.0 1966.2 349.7 1966.5 349.4 1966.7 349.1 1967.0 348.8 1967.3 348.6 1967.5 348.3 1967.8 348.0 1968.0 347.8 1968.3 347.5 1968.5 347.3 1968.8 347.0 1969.0 346.8 1969.3 346.5 1969.5 346.3 1969.8 346.0 1970.0 345.8 1970.3 345.5 1970.5 345.3 1970.8 345.1 1971.0 344.8 1971.3 344.6 1971.5 344.3 1971.8 344.1 1972.0 343.9 1972.3 343.6 1972.5 343.4 1972.8 343.1 1973.0 342.9 1973.3 342.7 1973.5 342.4 1973.7 342.2 1974.0 342.0 1974.2 341.8 1974.5 341.5 1974.7 341.3 1975.0 341.1 1975.2 340.8 1975.5 340.6 1975.7 340.4 1976.0 340.2 1976.2 340.0 1976.4 339.7 1976.7 339.5 1976.9 339.3 1977.2 339.1 1977.4 338.8 1977.7 338.6 1977.9 338.4 1978.1 338.2 1978.4 338.0 1978.6 337.7 1978.9 337.5 1979.1 337.3 1979.3 337.1 1979.6 336.8 1979.8 336.6 1980.1 336.4 1980.3 336.2 1980.5 335.9 1980.8 335.7 1981.0 335.5 1981.3 335.3 1981.5 335.0 1981.7 334.8 1982.0 334.6 1982.2 334.3 1982.5 334.1 1982.7 333.9 1982.9 333.6 1983.2 333.4 1983.4 333.1 1983.6 332.9 1983.9 332.6 1984.1 332.4 1984.3 332.1 1984.6 331.9 1984.8 331.6 1985.0 331.3 1985.3 331.1 1985.5 330.8 1985.7 330.5 1986.0 330.2 1986.2 329.9 1986.4 329.6 1986.7 329.3 1986.9 329.1 1987.1 328.8 1987.4 328.5 1987.6 328.2 1987.8 328.0 1988.1 327.7 1988.3 327.4 1988.5 327.2 1988.8 326.9 1989.0 326.7 1989.2 326.5 1989.5 326.2 1989.7 326.0 1989.9 325.8 1990.2 325.6 1990.4 325.4 1990.6 325.2 1990.8 325.0 1991.1 324.8 1991.3 324.6 1991.5 324.4 1991.8 324.3 1992.0 324.1 1992.2 323.9 1992.4 323.7 1992.7 323.5 1992.9 323.3 1993.1 323.2 1993.3 323.0 1993.6 322.8 1993.8 322.6 1994.0 322.4 1994.2 322.2 1994.5 322.0 1994.7 321.8 1994.9 321.7 1995.1 321.4 1995.4 321.2 1995.6 321.0 1995.8 320.8 1996.0 320.6 1996.3 320.4 1996.5 320.1 1996.7 319.9 1996.9 319.6 1997.2 319.4 1997.4 319.1 1997.6 318.8 1997.8 318.5 1998.0 318.3 1998.3 318.0 1998.5 317.7 1998.7 317.4 1998.9 317.0 1999.2 316.7 1999.4 316.4 1999.6 316.1 1999.8 315.8 2000.0 315.5 2000.3 315.2 2000.5 314.9 2000.7 314.5 2000.9 314.2 2001.1 313.9 2001.3 313.6 2001.6 313.3 2001.8 313.0 2002.0 312.7 2002.2 312.3 2002.4 312.0 2002.7 311.7 2002.9 311.4 2003.1 311.1 2003.3 310.7 2003.5 310.4 2003.7 310.1 2004.0 309.8 2004.2 309.4 2004.4 309.1 2004.6 308.8 2004.8 308.5 2005.0 308.1 2005.2 307.8 2005.5 307.5 2005.7 307.2 2005.9 306.9 2006.1 306.5 2006.3 306.2 2006.5 305.9 2006.7 305.6 2007.0 305.2 2007.2 304.9 2007.4 304.6 2007.6 304.3 2007.8 303.9 2008.0 303.6 2008.2 303.3 2008.4 302.9 2008.7 302.6 2008.9 302.3 2009.1 302.0 2009.3 301.7 2009.5 301.3 2009.7 301.0 2009.9 300.7 2010.1 300.4 2010.3 300.1 2010.6 299.8 2010.8 299.5 2011.0 299.2 2011.2 298.9 2011.4 298.7 2011.6 298.4 2011.8 298.1 2012.0 297.8 2012.2 297.5 2012.4 297.3 2012.7 297.0 2012.9 296.7 2013.1 296.4 2013.3 296.1 2013.5 295.9 2013.7 295.6 2013.9 295.3 2014.1 295.0 2014.3 294.8 2014.5 294.5 2014.7 294.2 2014.9 294.0 2015.1 293.7 2015.3 293.4 2015.5 293.2 2015.8 292.9 2016.0 292.6 2016.2 292.4 2016.4 292.1 2016.6 291.8 2016.8 291.6 2017.0 291.3 2017.2 291.0 2017.4 290.8 2017.6 290.5 2017.8 290.3 2018.0 290.0 2018.2 289.7 2018.4 289.5 2018.6 289.2 2018.8 289.0 2019.0 288.7 2019.2 288.5 2019.4 288.2 2019.6 288.0 2019.8 287.7 2020.0 287.5 2020.2 287.2 2020.4 287.0 2020.6 286.7 2020.8 286.5 2021.0 286.3 2021.2 286.0 2021.4 285.8 2021.6 285.5 2021.8 285.3 2022.0 285.1 2022.2 284.8 2022.4 284.6 2022.6 284.3 2022.8 284.1 2023.0 283.9 2023.2 283.6 2023.4 283.4 2023.6 283.2 2023.8 283.0 2024.0 282.7 2024.2 282.5 2024.4 282.3 2024.6 282.1 2024.8 281.8 2025.0 281.6 2025.2 281.4 2025.4 281.2 2025.6 281.0 2025.8 280.7 2026.0 280.5 2026.2 280.3 2026.4 280.1 2026.6 279.9 2026.8 279.7 2027.0 279.5 2027.2 279.3 2027.4 279.0 2027.6 278.8 2027.8 278.6 2027.9 278.4 2028.1 278.2 2028.3 278.0 2028.5 277.8 2028.7 277.6 2028.9 277.4 2029.1 277.2 2029.3 277.0 2029.5 276.8 2029.7 276.7 2029.9 276.5 2030.1 276.3 2030.3 276.1 2030.5 275.9 2030.7 275.7 2030.9 275.5 2031.0 275.3 2031.2 275.2 2031.4 275.0 2031.6 274.8 2031.8 274.6 2032.0 274.4" fill="none" stroke="none" marker-start="url(#ms)" marker-mid="url(#ms)" marker-end="url(#ms)"/>
<path d="M396.0 957.0 555.8 950.9 649.4 945.1 715.7 936.4 767.2 930.3 809.2 930.3 844.7 930.3 875.5 930.2 902.7 930.1 927.0 930.0 949.0 929.7 969.0 929.4 987.5 929.0 1004.6 928.6 1020.5 928.4 1035.4 928.3 1049.4 928.2 1062.5 928.1 1075.0 928.1 1086.8 928.0 1098.1 927.9 1108.8 927.7 1119.1 927.3 1128.9 926.8 1138.3 926.2 1147.4 925.8 1156.1 925.6 1164.4 925.4 1172.5 925.3 1180.4 925.2 1187.9 925.1 1195.2 925.0 1202.3 924.9 1209.2 924.8 1215.9 924.6 1222.4 924.5 1228.7 924.3 1234.9 924.1 1240.9 923.9 1246.7 923.7 1252.4 923.5 1257.9 923.3 1263.4 923.1 1268.7 923.0 1273.9 922.8 1278.9 922.6 1283.9 922.4 1288.7 922.2 1293.5 922.0 1298.2 921.8 1302.7 921.6 1307.2 921.4 1311.6 921.2 1315.9 921.0 1320.1 920.8 1324.3 920.6 1328.4 920.3 1332.4 920.1 1336.3 919.9 1340.2 919.7 1344.0 919.5 1347.8 919.3 1351.4 919.1 1355.1 918.9 1358.7 918.7 1362.2 918.5 1365.6 918.3 1369.1 918.2 1372.4 918.0 1375.7 917.8 1379.0 917.7 1382.2 917.5 1385.4 917.4 1388.6 917.3 1391.7 917.1 1394.7 917.0 1397.7 916.9 1400.7 916.8 1403.6 916.7 1406.5 916.6 1409.4 916.5 1412.2 916.4 1415.0 916.3 1417.8 916.2 1420.5 916.1 1423.2 916.0 1425.9 915.8 1428.5 915.7 1431.1 915.6 1433.7 915.5 1436.3 915.3 1438.8 915.2 1441.3 915.0 1443.7 914.8 1446.2 914.6 1448.6 914.4 1451.0 914.2 1453.3 914.0 1455.7 913.7 1458.0 913.4 1460.3 913.2 1462.6 912.9 1464.8 912.7 1467.0 912.4 1469.3 912.2 1471.4 912.0 1473.6 911.7 1475.7 911.5 1477.9 911.3 1480.0 911.1 1482.1 911.0 1484.1 910.8 1486.2 910.7 1488.2 910.5 1490.2 910.4 1492.2 910.2 1494.2 910.1 1496.2 909.9 1498.1 909.8 1500.0 909.6 1502.0 909.5 1503.9 909.3 1505.7 909.2 1507.6 909.0 1509.5 908.8 1511.3 908.6 1513.1 908.4 1514.9 908.2 1516.7 908.0 1518.5 907.8 1520.3 907.6 1522.0 907.3 1523.8 907.0 1525.5 906.6 1527.2 906.2 1528.9 905.8 1530.6 905.4 1532.3 904.9 1533.9 904.5 1535.6 904.0 1537.2 903.6 1538.9 903.1 1540.5 902.5 1542.1 902.0 1543.7 901.4 1545.3 900.8 1546.8 900.3 1548.4 899.7 1550.0 899.1 1551.5 898.5 1553.0 897.9 1554.6 897.3 1556.1 896.7 1557.6 896.1 1559.1 895.5 1560.5 894.9 1562.0 894.3 1563.5 893.7 1564.9 893.1 1566.4 892.5 1567.8 891.9 1569.3 891.3 1570.7 890.7 1572.1 890.0 1573.5 889.4 1574.9 888.8 1576.3 888.2 1577.6 887.6 1579.0 887.0 1580.4 886.4 1581.7 885.8 1583.1 885.2 1584.4 884.6 1585.7 884.0 1587.1 883.4 1588.4 882.8 1589.7 882.2 1591.0 881.6 1592.3 881.0 1593.5 880.4 1594.8 879.8 1596.1 879.3 1597.4 878.7 1598.6 878.1 1599.9 877.5 1601.1 876.9 1602.3 876.3 1603.6 875.7 1604.8 875.2 1606.0 874.6 1607.2 874.0 1608.4 873.4 1609.6 872.8 1610.8 872.2 1612.0 871.6 1613.2 871.0 1614.4 870.4 1615.5 869.8 1616.7 869.2 1617.8 868.6 1619.0 868.0 1620.1 867.4 1621.3 866.8 1622.4 866.2 1623.5 865.6 1624.7 865.0 1625.8 864.3 1626.9 863.7 1628.0 863.1 1629.1 862.5 1630.2 861.9 1631.3 861.3 1632.4 860.7 1633.4 860.1 1634.5 859.5 1635.6 858.9 1636.7 858.3 1637.7 857.6 1638.8 857.0 1639.8 856.4 1640.9 855.8 1641.9 855.2 1642.9 854.6 1644.0 853.9 1645.0 853.3 1646.0 852.7 1647.0 852.1 1648.1 851.4 1649.1 850.8 1650.1 850.2 1651.1 849.5 1652.1 848.9 1653.1 848.3 1654.1 847.7 1655.0 847.0 1656.0 846.4 1657.0 845.8 1658.0 845.1 1658.9 844.5 1659.9 843.9 1660.9 843.3 1661.8 842.6 1662.8 842.0 1663.7 841.4 1664.6 840.8 1665.6 840.1 1666.5 839.5 1667.5 838.9 1668.4 838.3 1669.3 837.6 1670.2 837.0 1671.1 836.4 1672.1 835.8 1673.0 835.2 1673.9 834.5 1674.8 833.9 1675.7 833.3 1676.6 832.7 1677.5 832.1 1678.4 831.4 1679.2 830.8 1680.1 830.2 1681.0 829.6 1681.9 829.0 1682.7 828.4 1683.6 827.7 1684.5 827.1 1685.3 826.5 1686.2 825.9 1687.1 825.3 1687.9 824.6 1688.8 824.0 1689.6 823.4 1690.4 822.8 1691.3 822.2 1692.1 821.5 1693.0 820.9 1693.8 820.3 1694.6 819.7 1695.4 819.0 1696.3 818.4 1697.1 817.8 1697.9 817.1 1698.7 816.5 1699.5 815.9 1700.3 815.2 1701.1 814.6 1701.9 814.0 1702.7 813.3 1703.5 812.7 1704.3 812.0 1705.1 811.4 1705.9 810.7 1706.7 810.1 1707.5 809.4 1708.3 808.8 1709.0 808.1 1709.8 807.4 1710.6 806.8 1711.4 806.1 1712.1 805.5 1712.9 804.8 1713.6 804.2 1714.4 803.5 1715.2 802.9 1715.9 802.2 1716.7 801.6 1717.4 800.9 1718.2 800.3 1718.9 799.6 1719.7 799.0 1720.4 798.4 1721.1 797.7 1721.9 797.1 1722.6 796.4 1723.3 795.8 1724.1 795.2 1724.8 794.5 1725.5 793.9 1726.2 793.3 1727.0 792.7 1727.7 792.1 1728.4 791.4 1729.1 790.8 1729.8 790.2 1730.5 789.6 1731.2 789.0 1731.9 788.4 1732.6 787.8 1733.3 787.2 1734.0 786.6 1734.7 786.0 1735.4 785.4 1736.1 784.8 1736.8 784.2 1737.5 783.6 1738.2 783.0 1738.9 782.4 1739.5 781.8 1740.2 781.2 1740.9 780.6 1741.6 780.0 1742.2 779.4 1742.9 778.8 1743.6 778.2 1744.2 777.6 1744.9 777.0 1745.6 776.5 1746.2 775.9 1746.9 775.3 1747.6 774.7 1748.2 774.1 1748.9 773.5 1749.5 772.9 1750.2 772.3 1750.8 771.7 1751.5 771.1 1752.1 770.5 1752.8 769.9 1753.4 769.3 1754.0 768.7 1754.7 768.1 1755.3 767.5 1755.9 766.9 1756.6 766.3 1757.2 765.7 1757.8 765.1 1758.5 764.5 1759.1 763.9 1759.7 763.4 1760.3 762.8 1761.0 762.2 1761.6 761.6 1762.2 761.0 1762.8 760.4 1763.4 759.8 1764.0 759.2 1764.6 758.6 1765.3 758.0 1765.9 757.4 1766.5 756.8 1767.1 756.2 1767.7 755.6 1768.3 755.0 1768.9 754.4 1769.5 753.8 1770.1 753.2 1770.7 752.6 1771.3 752.0 1771.9 751.4 1772.4 750.8 1773.0 750.2 1773.6 749.6 1774.2 749.0 1774.8 748.4 1775.4 747.8 1776.0 747.2 1776.5 746.6 1777.1 746.0 1777.7 745.4 1778.3 744.7 1778.8 744.1 1779.4 743.5 1780.0 742.9 1780.6 742.3 1781.1 741.6 1781.7 741.0 1782.3 740.3 1782.8 739.7 1783.4 739.0 1784.0 738.4 1784.5 737.7 1785.1 737.1 1785.6 736.4 1786.2 735.8 1786.7 735.1 1787.3 734.5 1787.8 733.8 1788.4 733.1 1788.9 732.5 1789.5 731.8 1790.0 731.2 1790.6 730.5 1791.1 729.8 1791.7 729.2 1792.2 728.5 1792.8 727.9 1793.3 727.2 1793.8 726.5 1794.4 725.9 1794.9 725.2 1795.4 724.6 1796.0 723.9 1796.5 723.3 1797.0 722.6 1797.6 722.0 1798.1 721.4 1798.6 720.7 1799.1 720.1 1799.7 719.5 1800.2 718.9 1800.7 718.2 1801.2 717.6 1801.8 717.0 1802.3 716.4 1802.8 715.8 1803.3 715.2 1803.8 714.6 1804.3 714.0 1804.9 713.4 1805.4 712.8 1805.9 712.3 1806.4 711.7 1806.9 711.1 1807.4 710.6 1807.9 710.0 1808.4 709.4 1808.9 708.9 1809.4 708.3 1809.9 707.8 1810.4 707.2 1810.9 706.7 1811.4 706.1 1811.9 705.6 1812.4 705.0 1812.9 704.5 1813.4 703.9 1813.9 703.4 1814.4 702.9 1814.9 702.3 1815.4 701.8 1815.9 701.2 1816.4 700.7 1816.8 700.2 1817.3 699.6 1817.8 699.1 1818.3 698.5 1818.8 698.0 1819.3 697.5 1819.7 696.9 1820.2 696.4 1820.7 695.9 1821.2 695.3 1821.7 694.8 1822.1 694.3 1822.6 693.8 1823.1 693.2 1823.6 692.7 1824.0 692.2 1824.5 691.7 1825.0 691.2 1825.4 690.6 1825.9 690.1 1826.4 689.6 1826.8 689.1 1827.3 688.5 1827.8 688.0 1828.2 687.5 1828.7 686.9 1829.2 686.4 1829.6 685.9 1830.1 685.3 1830.5 684.8 1831.0 684.2 1831.4 683.7 1831.9 683.1 1832.4 682.6 1832.8 682.0 1833.3 681.4 1833.7 680.8 1834.2 680.2 1834.6 679.6 1835.1 679.0 1835.5 678.4 1836.0 677.8 1836.4 677.2 1836.9 676.6 1837.3 676.0 1837.8 675.3 1838.2 674.7 1838.6 674.1 1839.1 673.5 1839.5 672.9 1840.0 672.3 1840.4 671.7 1840.8 671.1 1841.3 670.5 1841.7 670.0 1842.2 669.4 1842.6 668.8 1843.0 668.3 1843.5 667.8 1843.9 667.2 1844.3 666.7 1844.8 666.2 1845.2 665.7 1845.6 665.2 1846.0 664.8 1846.5 664.3 1846.9 663.8 1847.3 663.4 1847.8 662.9 1848.2 662.5 1848.6 662.0 1849.0 661.6 1849.4 661.2 1849.9 660.7 1850.3 660.3 1850.7 659.9 1851.1 659.4 1851.6 659.0 1852.0 658.6 1852.4 658.2 1852.8 657.8 1853.2 657.3 1853.6 656.9 1854.0 656.5 1854.5 656.1 1854.9 655.7 1855.3 655.2 1855.7 654.8 1856.1 654.4 1856.5 653.9 1856.9 653.5 1857.3 653.0 1857.7 652.6 1858.2 652.1 1858.6 651.7 1859.0 651.2 1859.4 650.7 1859.8 650.3 1860.2 649.8 1860.6 649.3 1861.0 648.8 1861.4 648.2 1861.8 647.7 1862.2 647.2 1862.6 646.6 1863.0 646.0 1863.4 645.5 1863.8 644.9 1864.2 644.3 1864.6 643.7 1865.0 643.2 1865.4 642.6 1865.8 642.0 1866.1 641.5 1866.5 640.9 1866.9 640.4 1867.3 639.9 1867.7 639.3 1868.1 638.8 1868.5 638.3 1868.9 637.9 1869.3 637.4 1869.7 637.0 1870.0 636.5 1870.4 636.1 1870.8 635.7 1871.2 635.3 1871.6 635.0 1872.0 634.6 1872.3 634.2 1872.7 633.9 1873.1 633.5 1873.5 633.2 1873.9 632.9 1874.3 632.6 1874.6 632.2 1875.0 631.9 1875.4 631.6 1875.8 631.3 1876.1 631.0 1876.5 630.7 1876.9 630.4 1877.3 630.1 1877.6 629.8 1878.0 629.5 1878.4 629.2 1878.8 628.9 1879.1 628.6 1879.5 628.3 1879.9 628.0 1880.2 627.7 1880.6 627.3 1881.0 627.0 1881.3 626.7 1881.7 626.4 1882.1 626.0 1882.4 625.7 1882.8 625.3 1883.2 625.0 1883.5 624.6 1883.9 624.3 1884.3 623.9 1884.6 623.5 1885.0 623.1 1885.4 622.7 1885.7 622.2 1886.1 621.8 1886.4 621.4 1886.8 620.9 1887.2 620.4 1887.5 619.9 1887.9 619.4 1888.2 618.9 1888.6 618.4 1888.9 617.9 1889.3 617.3 1889.7 616.8 1890.0 616.2 1890.4 615.7 1890.7 615.1 1891.1 614.6 1891.4 614.0 1891.8 613.5 1892.1 612.9 1892.5 612.4 1892.8 611.8 1893.2 611.3 1893.5 610.7 1893.9 610.2 1894.2 609.6 1894.6 609.1 1894.9 608.5 1895.3 608.0 1895.6 607.5 1896.0 607.0 1896.3 606.5 1896.6 606.0 1897.0 605.5 1897.3 605.0 1897.7 604.6 1898.0 604.1 1898.4 603.7 1898.7 603.2 1899.0 602.8 1899.4 602.4 1899.7 602.0 1900.1 601.7 1900.4 601.3 1900.7 601.0 1901.1 600.6 1901.4 600.3 1901.8 600.0 1902.1 599.7 1902.4 599.4 1902.8 599.1 1903.1 598.8 1903.4 598.5 1903.8 598.2 1904.1 597.9 1904.4 597.6 1904.8 597.3 1905.1 597.0 1905.4 596.7 1905.8 596.4 1906.1 596.1 1906.4 595.8 1906.7 595.5 1907.1 595.1 1907.4 594.8 1907.7 594.5 1908.1 594.1 1908.4 593.8 1908.7 593.4 1909.0 593.0 1909.4 592.6 1909.7 592.2 1910.0 591.8 1910.3 591.3 1910.7 590.9 1911.0 590.5 1911.3 590.0 1911.6 589.5 1912.0 589.1 1912.3 588.6 1912.6 588.1 1912.9 587.6 1913.2 587.2 1913.6 586.7 1913.9 586.2 1914.2 585.7 1914.5 585.2 1914.8 584.7 1915.2 584.2 1915.5 583.8 1915.8 583.3 1916.1 582.8 1916.4 582.3 1916.7 581.9 1917.1 581.4 1917.4 580.9 1917.7 580.5 1918.0 580.0 1918.3 579.6 1918.6 579.1 1918.9 578.6 1919.3 578.1 1919.6 577.6 1919.9 577.1 1920.2 576.6 1920.5 576.1 1920.8 575.7 1921.1 575.2 1921.4 574.7 1921.7 574.2 1922.0 573.7 1922.3 573.3 1922.7 572.8 1923.0 572.4 1923.3 572.0 1923.6 571.5 1923.9 571.1 1924.2 570.7 1924.5 570.3 1924.8 570.0 1925.1 569.6 1925.4 569.3 1925.7 569.0 1926.0 568.7 1926.3 568.4 1926.6 568.1 1926.9 567.8 1927.2 567.6 1927.5 567.3 1927.8 567.1 1928.1 566.8 1928.4 566.6 1928.7 566.3 1929.0 566.1 1929.3 565.9 1929.6 565.7 1929.9 565.5 1930.2 565.2 1930.5 565.0 1930.8 564.8 1931.1 564.6 1931.4 564.4 1931.7 564.2 1932.0 564.0 1932.3 563.8 1932.6 563.6 1932.9 563.4 1933.2 563.2 1933.5 563.0 1933.8 562.8 1934.1 562.6 1934.3 562.4 1934.6 562.2 1934.9 562.0 1935.2 561.8 1935.5 561.6 1935.8 561.4 1936.1 561.2 1936.4 560.9 1936.7 560.7 1937.0 560.5 1937.3 560.3 1937.5 560.1 1937.8 559.9 1938.1 559.7 1938.4 559.5 1938.7 559.3 1939.0 559.1 1939.3 558.9 1939.5 558.7 1939.8 558.5 1940.1 558.3 1940.4 558.1 1940.7 557.9 1941.0 557.7 1941.3 557.5 1941.5 557.3 1941.8 557.1 1942.1 556.9 1942.4 556.7 1942.7 556.5 1943.0 556.3 1943.2 556.1 1943.5 556.0 1943.8 555.8 1944.1 555.6 1944.4 555.4 1944.6 555.2 1944.9 555.0 1945.2 554.8 1945.5 554.7 1945.8 554.5 1946.0 554.3 1946.3 554.1 1946.6 553.9 1946.9 553.8 1947.1 553.6 1947.4 553.4 1947.7 553.2 1948.0 553.1 1948.2 552.9 1948.5 552.7 1948.8 552.6 1949.1 552.4 1949.3 552.2 1949.6 552.0 1949.9 551.9 1950.2 551.7 1950.4 551.5 1950.7 551.4 1951.0 551.2 1951.2 551.0 1951.5 550.9 1951.8 550.7 1952.1 550.5 1952.3 550.4 1952.6 550.2 1952.9 550.1 1953.1 549.9 1953.4 549.7 1953.7 549.6 1954.0 549.4 1954.2 549.3 1954.5 549.1 1954.8 548.9 1955.0 548.8 1955.3 548.6 1955.6 548.5 1955.8 548.3 1956.1 548.1 1956.4 548.0 1956.6 547.8 1956.9 547.7 1957.1 547.5 1957.4 547.3 1957.7 547.2 1957.9 547.0 1958.2 546.9 1958.5 546.7 1958.7 546.6 1959.0 546.4 1959.3 546.2 1959.5 546.1 1959.8 545.9 1960.0 545.8 1960.3 545.6 1960.6 545.5 1960.8 545.3 1961.1 545.2 1961.3 545.0 1961.6 544.9 1961.9 544.7 1962.1 544.6 1962.4 544.5 1962.6 544.3 1962.9 544.2 1963.2 544.0 1963.4 543.9 1963.7 543.7 1963.9 543.6 1964.2 543.4 1964.4 543.3 1964.7 543.1 1965.0 543.0 1965.2 542.8 1965.5 542.7 1965.7 542.6 1966.0 542.4 1966.2 542.3 1966.5 542.1 1966.7 542.0 1967.0 541.8 1967.3 541.6 1967.5 541.5 1967.8 541.3 1968.0 541.2 1968.3 541.0 1968.5 540.9 1968.8 540.7 1969.0 540.5 1969.3 540.4 1969.5 540.2 1969.8 540.1 1970.0 539.9 1970.3 539.7 1970.5 539.6 1970.8 539.4 1971.0 539.2 1971.3 539.1 1971.5 538.9 1971.8 538.8 1972.0 538.6 1972.3 538.4 1972.5 538.3 1972.8 538.1 1973.0 537.9 1973.3 537.8 1973.5 537.6 1973.7 537.4 1974.0 537.2 1974.2 537.1 1974.5 536.9 1974.7 536.7 1975.0 536.6 1975.2 536.4 1975.5 536.2 1975.7 536.1 1976.0 535.9 1976.2 535.7 1976.4 535.5 1976.7 535.4 1976.9 535.2 1977.2 535.0 1977.4 534.9 1977.7 534.7 1977.9 534.5 1978.1 534.3 1978.4 534.2 1978.6 534.0 1978.9 533.8 1979.1 533.6 1979.3 533.5 1979.6 533.3 1979.8 533.1 1980.1 533.0 1980.3 532.8 1980.5 532.6 1980.8 532.4 1981.0 532.3 1981.3 532.1 1981.5 531.9 1981.7 531.7 1982.0 531.6 1982.2 531.4 1982.5 531.2 1982.7 531.1 1982.9 530.9 1983.2 530.7 1983.4 530.5 1983.6 530.4 1983.9 530.2 1984.1 530.0 1984.3 529.8 1984.6 529.7 1984.8 529.5 1985.0 529.3 1985.3 529.2 1985.5 529.0 1985.7 528.8 1986.0 528.6 1986.2 528.5 1986.4 528.3 1986.7 528.1 1986.9 527.9 1987.1 527.8 1987.4 527.6 1987.6 527.4 1987.8 527.2 1988.1 527.1 1988.3 526.9 1988.5 526.7 1988.8 526.5 1989.0 526.4 1989.2 526.2 1989.5 526.0 1989.7 525.8 1989.9 525.7 1990.2 525.5 1990.4 525.3 1990.6 525.1 1990.8 525.0 1991.1 524.8 1991.3 524.6 1991.5 524.4 1991.8 524.3 1992.0 524.1 1992.2 523.9 1992.4 523.7 1992.7 523.5 1992.9 523.4 1993.1 523.2 1993.3 523.0 1993.6 522.8 1993.8 522.7 1994.0 522.5 1994.2 522.3 1994.5 522.1 1994.7 522.0 1994.9 521.8 1995.1 521.6 1995.4 521.4 1995.6 521.3 1995.8 521.1 1996.0 520.9 1996.3 520.7 1996.5 520.6 1996.7 520.4 1996.9 520.2 1997.2 520.0 1997.4 519.9 1997.6 519.7 1997.8 519.5 1998.0 519.3 1998.3 519.2 1998.5 519.0 1998.7 518.8 1998.9 518.6 1999.2 518.5 1999.4 518.3 1999.6 518.1 1999.8 517.9 2000.0 517.8 2000.3 517.6 2000.5 517.4 2000.7 517.3 2000.9 517.1 2001.1 516.9 2001.3 516.7 2001.6 516.6 2001.8 516.4 2002.0 516.2 2002.2 516.0 2002.4 515.9 2002.7 515.7 2002.9 515.5 2003.1 515.4 2003.3 515.2 2003.5 515.0 2003.7 514.8 2004.0 514.7 2004.2 514.5 2004.4 514.3 2004.6 514.2 2004.8 514.0 2005.0 513.8 2005.2 513.6 2005.5 513.5 2005.7 513.3 2005.9 513.1 2006.1 513.0 2006.3 512.8 2006.5 512.6 2006.7 512.4 2007.0 512.3 2007.2 512.1 2007.4 511.9 2007.6 511.8 2007.8 511.6 2008.0 511.4 2008.2 511.3 2008.4 511.1 2008.7 510.9 2008.9 510.7 2009.1 510.6 2009.3 510.4 2009.5 510.2 2009.7 510.1 2009.9 509.9 2010.1 509.7 2010.3 509.6 2010.6 509.4 2010.8 509.2 2011.0 509.0 2011.2 508.9 2011.4 508.7 2011.6 508.5 2011.8 508.4 2012.0 508.2 2012.2 508.0 2012.4 507.9 2012.7 507.7 2012.9 507.5 2013.1 507.4 2013.3 507.2 2013.5 507.0 2013.7 506.9 2013.9 506.7 2014.1 506.5 2014.3 506.3 2014.5 506.2 2014.7 506.0 2014.9 505.8 2015.1 505.7 2015.3 505.5 2015.5 505.3 2015.8 505.2 2016.0 505.0 2016.2 504.8 2016.4 504.7 2016.6 504.5 2016.8 504.3 2017.0 504.2 2017.2 504.0 2017.4 503.8 2017.6 503.7 2017.8 503.5 2018.0 503.3 2018.2 503.2 2018.4 503.0 2018.6 502.8 2018.8 502.7 2019.0 502.5 2019.2 502.3 2019.4 502.2 2019.6 502.0 2019.8 501.8 2020.0 501.7 2020.2 501.5 2020.4 501.3 2020.6 501.2 2020.8 501.0 2021.0 500.8 2021.2 500.7 2021.4 500.5 2021.6 500.3 2021.8 500.2 2022.0 500.0 2022.2 499.8 2022.4 499.7 2022.6 499.5 2022.8 499.4 2023.0 499.2 2023.2 499.0 2023.4 498.9 2023.6 498.7 2023.8 498.5 2024.0 498.4 2024.2 498.2 2024.4 498.0 2024.6 497.9 2024.8 497.7 2025.0 497.5 2025.2 497.4 2025.4 497.2 2025.6 497.0 2025.8 496.9 2026.0 496.7 2026.2 496.6 2026.4 496.4 2026.6 496.2 2026.8 496.1 2027.0 495.9 2027.2 495.7 2027.4 495.6 2027.6 495.4 2027.8 495.2 2027.9 495.1 2028.1 494.9 2028.3 494.7 2028.5 494.6 2028.7 494.4 2028.9 494.3 2029.1 494.1 2029.3 493.9 2029.5 493.8 2029.7 493.6 2029.9 493.4 2030.1 493.3 2030.3 493.1 2030.5 493.0 2030.7 492.8 2030.9 492.6 2031.0 492.5 2031.2 492.3 2031.4 492.1 2031.6 492.0 2031.8 491.8 2032.0 491.6 2032.2 491.5 2032.4 491.3 2032.6 491.2 2032.8 491.0 2033.0 490.8" fill="none" stroke="none" marker-start="url(#mu)" marker-mid="url(#mu)" marker-end="url(#mu)"/>
<path d="M396.0 1232.0 555.8 1225.4 649.4 1219.2 715.7 1211.3 767.2 1204.5 809.2 1198.3 844.7 1190.3 875.5 1188.0 902.7 1185.7 927.0 1184.5 949.0 1183.4 969.0 1181.9 987.5 1179.8 1004.6 1178.1 1020.5 1176.5 1035.4 1175.1 1049.4 1173.8 1062.5 1172.2 1075.0 1170.3 1086.8 1167.8 1098.1 1166.2 1108.8 1164.7 1119.1 1163.4 1128.9 1162.0 1138.3 1160.3 1147.4 1158.5 1156.1 1156.7 1164.4 1155.0 1172.5 1153.2 1180.4 1151.2 1187.9 1149.1 1195.2 1147.5 1202.3 1146.3 1209.2 1145.3 1215.9 1144.4 1222.4 1143.7 1228.7 1143.2 1234.9 1142.7 1240.9 1142.3 1246.7 1142.0 1252.4 1141.7 1257.9 1141.5 1263.4 1141.3 1268.7 1141.1 1273.9 1140.9 1278.9 1140.8 1283.9 1140.6 1288.7 1140.4 1293.5 1140.1 1298.2 1139.8 1302.7 1139.5 1307.2 1139.2 1311.6 1138.8 1315.9 1138.5 1320.1 1138.1 1324.3 1137.7 1328.4 1137.3 1332.4 1136.9 1336.3 1136.5 1340.2 1136.0 1344.0 1135.6 1347.8 1135.1 1351.4 1134.6 1355.1 1134.1 1358.7 1133.7 1362.2 1133.2 1365.6 1132.8 1369.1 1132.4 1372.4 1132.0 1375.7 1131.7 1379.0 1131.3 1382.2 1131.1 1385.4 1130.8 1388.6 1130.5 1391.7 1130.3 1394.7 1130.0 1397.7 1129.8 1400.7 1129.5 1403.6 1129.2 1406.5 1128.9 1409.4 1128.6 1412.2 1128.3 1415.0 1128.0 1417.8 1127.7 1420.5 1127.4 1423.2 1127.1 1425.9 1126.7 1428.5 1126.4 1431.1 1126.1 1433.7 1125.8 1436.3 1125.5 1438.8 1125.1 1441.3 1124.8 1443.7 1124.5 1446.2 1124.1 1448.6 1123.8 1451.0 1123.5 1453.3 1123.2 1455.7 1122.9 1458.0 1122.5 1460.3 1122.2 1462.6 1121.9 1464.8 1121.6 1467.0 1121.3 1469.3 1121.0 1471.4 1120.7 1473.6 1120.4 1475.7 1120.1 1477.9 1119.8 1480.0 1119.5 1482.1 1119.2 1484.1 1118.9 1486.2 1118.6 1488.2 1118.3 1490.2 1118.0 1492.2 1117.7 1494.2 1117.4 1496.2 1117.1 1498.1 1116.8 1500.0 1116.5 1502.0 1116.1 1503.9 1115.8 1505.7 1115.4 1507.6 1115.0 1509.5 1114.6 1511.3 1114.2 1513.1 1113.8 1514.9 1113.4 1516.7 1113.0 1518.5 1112.6 1520.3 1112.1 1522.0 1111.7 1523.8 1111.2 1525.5 1110.8 1527.2 1110.3 1528.9 1109.8 1530.6 1109.4 1532.3 1108.9 1533.9 1108.5 1535.6 1108.0 1537.2 1107.5 1538.9 1107.1 1540.5 1106.6 1542.1 1106.1 1543.7 1105.7 1545.3 1105.2 1546.8 1104.8 1548.4 1104.3 1550.0 1103.9 1551.5 1103.4 1553.0 1103.0 1554.6 1102.5 1556.1 1102.1 1557.6 1101.7 1559.1 1101.3 1560.5 1100.8 1562.0 1100.4 1563.5 1100.0 1564.9 1099.6 1566.4 1099.2 1567.8 1098.8 1569.3 1098.4 1570.7 1098.1 1572.1 1097.7 1573.5 1097.3 1574.9 1096.9 1576.3 1096.5 1577.6 1096.0 1579.0 1095.6 1580.4 1095.2 1581.7 1094.8 1583.1 1094.3 1584.4 1093.9 1585.7 1093.4 1587.1 1093.0 1588.4 1092.5 1589.7 1092.0 1591.0 1091.5 1592.3 1091.0 1593.5 1090.5 1594.8 1089.9 1596.1 1089.4 1597.4 1088.8 1598.6 1088.2 1599.9 1087.7 1601.1 1087.1 1602.3 1086.5 1603.6 1085.9 1604.8 1085.4 1606.0 1084.8 1607.2 1084.2 1608.4 1083.6 1609.6 1083.1 1610.8 1082.5 1612.0 1082.0 1613.2 1081.4 1614.4 1080.9 1615.5 1080.3 1616.7 1079.8 1617.8 1079.3 1619.0 1078.7 1620.1 1078.2 1621.3 1077.7 1622.4 1077.1 1623.5 1076.6 1624.7 1076.1 1625.8 1075.5 1626.9 1075.0 1628.0 1074.5 1629.1 1074.0 1630.2 1073.4 1631.3 1072.9 1632.4 1072.4 1633.4 1071.9 1634.5 1071.3 1635.6 1070.8 1636.7 1070.3 1637.7 1069.8 1638.8 1069.3 1639.8 1068.7 1640.9 1068.2 1641.9 1067.7 1642.9 1067.2 1644.0 1066.7 1645.0 1066.1 1646.0 1065.6 1647.0 1065.1 1648.1 1064.6 1649.1 1064.0 1650.1 1063.5 1651.1 1063.0 1652.1 1062.5 1653.1 1062.0 1654.1 1061.4 1655.0 1060.9 1656.0 1060.4 1657.0 1059.9 1658.0 1059.4 1658.9 1058.9 1659.9 1058.3 1660.9 1057.8 1661.8 1057.3 1662.8 1056.8 1663.7 1056.3 1664.6 1055.8 1665.6 1055.3 1666.5 1054.8 1667.5 1054.2 1668.4 1053.7 1669.3 1053.2 1670.2 1052.7 1671.1 1052.2 1672.1 1051.7 1673.0 1051.2 1673.9 1050.7 1674.8 1050.2 1675.7 1049.7 1676.6 1049.2 1677.5 1048.7 1678.4 1048.2 1679.2 1047.7 1680.1 1047.2 1681.0 1046.7 1681.9 1046.2 1682.7 1045.7 1683.6 1045.2 1684.5 1044.8 1685.3 1044.3 1686.2 1043.8 1687.1 1043.3 1687.9 1042.8 1688.8 1042.3 1689.6 1041.8 1690.4 1041.3 1691.3 1040.8 1692.1 1040.3 1693.0 1039.8 1693.8 1039.3 1694.6 1038.8 1695.4 1038.3 1696.3 1037.7 1697.1 1037.2 1697.9 1036.7 1698.7 1036.2 1699.5 1035.7 1700.3 1035.2 1701.1 1034.7 1701.9 1034.2 1702.7 1033.7 1703.5 1033.2 1704.3 1032.7 1705.1 1032.2 1705.9 1031.6 1706.7 1031.1 1707.5 1030.6 1708.3 1030.1 1709.0 1029.6 1709.8 1029.1 1710.6 1028.6 1711.4 1028.0 1712.1 1027.5 1712.9 1027.0 1713.6 1026.5 1714.4 1026.0 1715.2 1025.4 1715.9 1024.9 1716.7 1024.4 1717.4 1023.9 1718.2 1023.3 1718.9 1022.8 1719.7 1022.3 1720.4 1021.7 1721.1 1021.2 1721.9 1020.7 1722.6 1020.1 1723.3 1019.6 1724.1 1019.1 1724.8 1018.5 1725.5 1018.0 1726.2 1017.4 1727.0 1016.8 1727.7 1016.3 1728.4 1015.7 1729.1 1015.2 1729.8 1014.6 1730.5 1014.0 1731.2 1013.4 1731.9 1012.9 1732.6 1012.3 1733.3 1011.7 1734.0 1011.1 1734.7 1010.5 1735.4 1010.0 1736.1 1009.4 1736.8 1008.8 1737.5 1008.2 1738.2 1007.6 1738.9 1007.0 1739.5 1006.4 1740.2 1005.9 1740.9 1005.3 1741.6 1004.7 1742.2 1004.1 1742.9 1003.5 1743.6 1002.9 1744.2 1002.4 1744.9 1001.8 1745.6 1001.2 1746.2 1000.6 1746.9 1000.1 1747.6 999.5 1748.2 998.9 1748.9 998.3 1749.5 997.8 1750.2 997.2 1750.8 996.7 1751.5 996.1 1752.1 995.5 1752.8 995.0 1753.4 994.4 1754.0 993.9 1754.7 993.3 1755.3 992.7 1755.9 992.2 1756.6 991.6 1757.2 991.1 1757.8 990.5 1758.5 989.9 1759.1 989.4 1759.7 988.8 1760.3 988.3 1761.0 987.7 1761.6 987.2 1762.2 986.6 1762.8 986.1 1763.4 985.5 1764.0 984.9 1764.6 984.4 1765.3 983.8 1765.9 983.3 1766.5 982.8 1767.1 982.2 1767.7 981.7 1768.3 981.1 1768.9 980.6 1769.5 980.0 1770.1 979.5 1770.7 979.0 1771.3 978.4 1771.9 977.9 1772.4 977.4 1773.0 976.8 1773.6 976.3 1774.2 975.8 1774.8 975.3 1775.4 974.8 1776.0 974.2 1776.5 973.7 1777.1 973.2 1777.7 972.7 1778.3 972.2 1778.8 971.7 1779.4 971.2 1780.0 970.7 1780.6 970.2 1781.1 969.7 1781.7 969.2 1782.3 968.7 1782.8 968.2 1783.4 967.7 1784.0 967.3 1784.5 966.8 1785.1 966.3 1785.6 965.8 1786.2 965.3 1786.7 964.9 1787.3 964.4 1787.8 963.9 1788.4 963.4 1788.9 963.0 1789.5 962.5 1790.0 962.0 1790.6 961.6 1791.1 961.1 1791.7 960.6 1792.2 960.2 1792.8 959.7 1793.3 959.2 1793.8 958.8 1794.4 958.3 1794.9 957.8 1795.4 957.4 1796.0 956.9 1796.5 956.4 1797.0 956.0 1797.6 955.5 1798.1 955.0 1798.6 954.6 1799.1 954.1 1799.7 953.6 1800.2 953.1 1800.7 952.7 1801.2 952.2 1801.8 951.7 1802.3 951.2 1802.8 950.8 1803.3 950.3 1803.8 949.8 1804.3 949.3 1804.9 948.9 1805.4 948.4 1805.9 947.9 1806.4 947.5 1806.9 947.0 1807.4 946.5 1807.9 946.0 1808.4 945.6 1808.9 945.1 1809.4 944.6 1809.9 944.2 1810.4 943.7 1810.9 943.2 1811.4 942.8 1811.9 942.3 1812.4 941.8 1812.9 941.4 1813.4 940.9 1813.9 940.4 1814.4 939.9 1814.9 939.5 1815.4 939.0 1815.9 938.5 1816.4 938.0 1816.8 937.6 1817.3 937.1 1817.8 936.6 1818.3 936.1 1818.8 935.6 1819.3 935.2 1819.7 934.7 1820.2 934.2 1820.7 933.7 1821.2 933.2 1821.7 932.7 1822.1 932.2 1822.6 931.7 1823.1 931.3 1823.6 930.8 1824.0 930.3 1824.5 929.8 1825.0 929.3 1825.4 928.8 1825.9 928.3 1826.4 927.7 1826.8 927.2 1827.3 926.7 1827.8 926.2 1828.2 925.7 1828.7 925.1 1829.2 924.6 1829.6 924.0 1830.1 923.5 1830.5 922.9 1831.0 922.4 1831.4 921.8 1831.9 921.3 1832.4 920.7 1832.8 920.1 1833.3 919.6 1833.7 919.0 1834.2 918.4 1834.6 917.9 1835.1 917.3 1835.5 916.7 1836.0 916.2 1836.4 915.6 1836.9 915.0 1837.3 914.5 1837.8 913.9 1838.2 913.4 1838.6 912.8 1839.1 912.3 1839.5 911.7 1840.0 911.2 1840.4 910.6 1840.8 910.1 1841.3 909.6 1841.7 909.1 1842.2 908.6 1842.6 908.0 1843.0 907.5 1843.5 907.0 1843.9 906.6 1844.3 906.1 1844.8 905.6 1845.2 905.1 1845.6 904.6 1846.0 904.1 1846.5 903.7 1846.9 903.2 1847.3 902.7 1847.8 902.2 1848.2 901.8 1848.6 901.3 1849.0 900.8 1849.4 900.3 1849.9 899.8 1850.3 899.3 1850.7 898.8 1851.1 898.3 1851.6 897.8 1852.0 897.3 1852.4 896.8 1852.8 896.3 1853.2 895.7 1853.6 895.2 1854.0 894.7 1854.5 894.1 1854.9 893.6 1855.3 893.1 1855.7 892.5 1856.1 892.0 1856.5 891.4 1856.9 890.9 1857.3 890.3 1857.7 889.8 1858.2 889.2 1858.6 888.7 1859.0 888.1 1859.4 887.6 1859.8 887.0 1860.2 886.5 1860.6 885.9 1861.0 885.3 1861.4 884.8 1861.8 884.2 1862.2 883.7 1862.6 883.1 1863.0 882.5 1863.4 882.0 1863.8 881.4 1864.2 880.9 1864.6 880.3 1865.0 879.7 1865.4 879.2 1865.8 878.6 1866.1 878.1 1866.5 877.5 1866.9 877.0 1867.3 876.4 1867.7 875.9 1868.1 875.3 1868.5 874.8 1868.9 874.2 1869.3 873.7 1869.7 873.2 1870.0 872.6 1870.4 872.1 1870.8 871.5 1871.2 871.0 1871.6 870.5 1872.0 870.0 1872.3 869.4 1872.7 868.9 1873.1 868.4 1873.5 867.9 1873.9 867.4 1874.3 866.9 1874.6 866.3 1875.0 865.8 1875.4 865.3 1875.8 864.9 1876.1 864.4 1876.5 863.9 1876.9 863.4 1877.3 862.9 1877.6 862.4 1878.0 862.0 1878.4 861.5 1878.8 861.0 1879.1 860.6 1879.5 860.1 1879.9 859.7 1880.2 859.2 1880.6 858.8 1881.0 858.4 1881.3 858.0 1881.7 857.5 1882.1 857.1 1882.4 856.7 1882.8 856.2 1883.2 855.8 1883.5 855.4 1883.9 855.0 1884.3 854.5 1884.6 854.1 1885.0 853.7 1885.4 853.2 1885.7 852.8 1886.1 852.3 1886.4 851.9 1886.8 851.4 1887.2 850.9 1887.5 850.4 1887.9 850.0 1888.2 849.5 1888.6 849.0 1888.9 848.5 1889.3 848.0 1889.7 847.5 1890.0 847.0 1890.4 846.5 1890.7 845.9 1891.1 845.4 1891.4 844.9 1891.8 844.4 1892.1 843.9 1892.5 843.3 1892.8 842.8 1893.2 842.3 1893.5 841.7 1893.9 841.2 1894.2 840.7 1894.6 840.1 1894.9 839.6 1895.3 839.1 1895.6 838.5 1896.0 838.0 1896.3 837.4 1896.6 836.9 1897.0 836.4 1897.3 835.8 1897.7 835.3 1898.0 834.8 1898.4 834.2 1898.7 833.7 1899.0 833.2 1899.4 832.6 1899.7 832.1 1900.1 831.6 1900.4 831.1 1900.7 830.5 1901.1 830.0 1901.4 829.5 1901.8 829.0 1902.1 828.5 1902.4 828.0 1902.8 827.5 1903.1 827.0 1903.4 826.5 1903.8 826.0 1904.1 825.5 1904.4 825.0 1904.8 824.5 1905.1 824.0 1905.4 823.6 1905.8 823.1 1906.1 822.6 1906.4 822.1 1906.7 821.7 1907.1 821.2 1907.4 820.7 1907.7 820.3 1908.1 819.8 1908.4 819.3 1908.7 818.9 1909.0 818.4 1909.4 817.9 1909.7 817.5 1910.0 817.0 1910.3 816.6 1910.7 816.1 1911.0 815.7 1911.3 815.2 1911.6 814.7 1912.0 814.3 1912.3 813.8 1912.6 813.4 1912.9 813.0 1913.2 812.5 1913.6 812.1 1913.9 811.6 1914.2 811.2 1914.5 810.7 1914.8 810.3 1915.2 809.9 1915.5 809.4 1915.8 809.0 1916.1 808.5 1916.4 808.1 1916.7 807.7 1917.1 807.2 1917.4 806.8 1917.7 806.4 1918.0 805.9 1918.3 805.5 1918.6 805.1 1918.9 804.6 1919.3 804.2 1919.6 803.8 1919.9 803.3 1920.2 802.9 1920.5 802.5 1920.8 802.1 1921.1 801.6 1921.4 801.2 1921.7 800.8 1922.0 800.4 1922.3 799.9 1922.7 799.5 1923.0 799.1 1923.3 798.7 1923.6 798.2 1923.9 797.8 1924.2 797.3 1924.5 796.9 1924.8 796.4 1925.1 795.9 1925.4 795.5 1925.7 795.0 1926.0 794.6 1926.3 794.1 1926.6 793.6 1926.9 793.2 1927.2 792.8 1927.5 792.3 1927.8 791.9 1928.1 791.5 1928.4 791.0 1928.7 790.6 1929.0 790.2 1929.3 789.9 1929.6 789.5 1929.9 789.1 1930.2 788.8 1930.5 788.5 1930.8 788.2 1931.1 787.9 1931.4 787.6 1931.7 787.3 1932.0 787.1 1932.3 786.8 1932.6 786.6 1932.9 786.3 1933.2 786.1 1933.5 785.8 1933.8 785.6 1934.1 785.4 1934.3 785.2 1934.6 785.0 1934.9 784.7 1935.2 784.5 1935.5 784.3 1935.8 784.1 1936.1 783.9 1936.4 783.7 1936.7 783.5 1937.0 783.3 1937.3 783.2 1937.5 783.0 1937.8 782.8 1938.1 782.6 1938.4 782.4 1938.7 782.3 1939.0 782.1 1939.3 781.9 1939.5 781.8 1939.8 781.6 1940.1 781.4 1940.4 781.3 1940.7 781.1 1941.0 780.9 1941.3 780.8 1941.5 780.6 1941.8 780.5 1942.1 780.3 1942.4 780.2 1942.7 780.0 1943.0 779.9 1943.2 779.7 1943.5 779.6 1943.8 779.4 1944.1 779.3 1944.4 779.1 1944.6 779.0 1944.9 778.8 1945.2 778.7 1945.5 778.5 1945.8 778.4 1946.0 778.2 1946.3 778.1 1946.6 777.9 1946.9 777.8 1947.1 777.6 1947.4 777.5 1947.7 777.3 1948.0 777.2 1948.2 777.0 1948.5 776.9 1948.8 776.7 1949.1 776.6 1949.3 776.4 1949.6 776.3 1949.9 776.1 1950.2 776.0 1950.4 775.8 1950.7 775.7 1951.0 775.5 1951.2 775.4 1951.5 775.2 1951.8 775.1 1952.1 775.0 1952.3 774.8 1952.6 774.7 1952.9 774.5 1953.1 774.4 1953.4 774.3 1953.7 774.1 1954.0 774.0 1954.2 773.8 1954.5 773.7 1954.8 773.6 1955.0 773.4 1955.3 773.3 1955.6 773.1 1955.8 773.0 1956.1 772.9 1956.4 772.7 1956.6 772.6 1956.9 772.4 1957.1 772.3 1957.4 772.2 1957.7 772.0 1957.9 771.9 1958.2 771.7 1958.5 771.6 1958.7 771.4 1959.0 771.3 1959.3 771.1 1959.5 771.0 1959.8 770.8 1960.0 770.7 1960.3 770.5 1960.6 770.4 1960.8 770.2 1961.1 770.1 1961.3 769.9 1961.6 769.7 1961.9 769.6 1962.1 769.4 1962.4 769.3 1962.6 769.1 1962.9 769.0 1963.2 768.8 1963.4 768.7 1963.7 768.5 1963.9 768.3 1964.2 768.2 1964.4 768.0 1964.7 767.9 1965.0 767.7 1965.2 767.5 1965.5 767.4 1965.7 767.2 1966.0 767.1 1966.2 766.9 1966.5 766.7 1966.7 766.6 1967.0 766.4 1967.3 766.3 1967.5 766.1 1967.8 765.9 1968.0 765.8 1968.3 765.6 1968.5 765.5 1968.8 765.3 1969.0 765.1 1969.3 765.0 1969.5 764.8 1969.8 764.7 1970.0 764.5 1970.3 764.3 1970.5 764.2 1970.8 764.0 1971.0 763.9 1971.3 763.7 1971.5 763.5 1971.8 763.4 1972.0 763.2 1972.3 763.0 1972.5 762.9 1972.8 762.7 1973.0 762.6 1973.3 762.4 1973.5 762.2 1973.7 762.1 1974.0 761.9 1974.2 761.8 1974.5 761.6 1974.7 761.4 1975.0 761.3 1975.2 761.1 1975.5 761.0 1975.7 760.8 1976.0 760.7 1976.2 760.5 1976.4 760.3 1976.7 760.2 1976.9 760.0 1977.2 759.9 1977.4 759.7 1977.7 759.6 1977.9 759.4 1978.1 759.2 1978.4 759.1 1978.6 758.9 1978.9 758.8 1979.1 758.6 1979.3 758.5 1979.6 758.3 1979.8 758.2 1980.1 758.0 1980.3 757.9 1980.5 757.7 1980.8 757.6 1981.0 757.4 1981.3 757.3 1981.5 757.1 1981.7 757.0 1982.0 756.8 1982.2 756.7 1982.5 756.5 1982.7 756.4 1982.9 756.2 1983.2 756.1 1983.4 755.9 1983.6 755.8 1983.9 755.6 1984.1 755.5 1984.3 755.4 1984.6 755.2 1984.8 755.1 1985.0 754.9 1985.3 754.8 1985.5 754.7 1985.7 754.5 1986.0 754.4 1986.2 754.2 1986.4 754.1 1986.7 754.0 1986.9 753.8 1987.1 753.7 1987.4 753.6 1987.6 753.5 1987.8 753.3 1988.1 753.2 1988.3 753.1 1988.5 752.9 1988.8 752.8 1989.0 752.7 1989.2 752.6 1989.5 752.4 1989.7 752.3 1989.9 752.2 1990.2 752.0 1990.4 751.9 1990.6 751.8 1990.8 751.6 1991.1 751.5 1991.3 751.4 1991.5 751.2 1991.8 751.1 1992.0 751.0 1992.2 750.8 1992.4 750.7 1992.7 750.6 1992.9 750.4 1993.1 750.3 1993.3 750.1 1993.6 750.0 1993.8 749.8 1994.0 749.7 1994.2 749.5 1994.5 749.4 1994.7 749.2 1994.9 749.1 1995.1 748.9 1995.4 748.8 1995.6 748.6 1995.8 748.4 1996.0 748.3 1996.3 748.1 1996.5 748.0 1996.7 747.8 1996.9 747.6 1997.2 747.5 1997.4 747.3 1997.6 747.2 1997.8 747.0 1998.0 746.8 1998.3 746.7 1998.5 746.5 1998.7 746.3 1998.9 746.2 1999.2 746.0 1999.4 745.8 1999.6 745.7 1999.8 745.5 2000.0 745.3 2000.3 745.2 2000.5 745.0 2000.7 744.8 2000.9 744.6 2001.1 744.5 2001.3 744.3 2001.6 744.1 2001.8 743.9 2002.0 743.8 2002.2 743.6 2002.4 743.4 2002.7 743.2 2002.9 743.1 2003.1 742.9 2003.3 742.7 2003.5 742.5 2003.7 742.3 2004.0 742.2 2004.2 742.0 2004.4 741.8 2004.6 741.6 2004.8 741.4 2005.0 741.3 2005.2 741.1 2005.5 740.9 2005.7 740.7 2005.9 740.5 2006.1 740.3 2006.3 740.2 2006.5 740.0 2006.7 739.8 2007.0 739.6 2007.2 739.4 2007.4 739.2 2007.6 739.0 2007.8 738.8 2008.0 738.7 2008.2 738.5 2008.4 738.3 2008.7 738.1 2008.9 737.9 2009.1 737.7 2009.3 737.5 2009.5 737.3 2009.7 737.1 2009.9 736.9 2010.1 736.8 2010.3 736.6 2010.6 736.4 2010.8 736.2 2011.0 736.0 2011.2 735.8 2011.4 735.6 2011.6 735.4 2011.8 735.2 2012.0 735.0 2012.2 734.8 2012.4 734.6 2012.7 734.4 2012.9 734.2 2013.1 734.0 2013.3 733.8 2013.5 733.6 2013.7 733.4 2013.9 733.2 2014.1 733.0 2014.3 732.8 2014.5 732.6 2014.7 732.4 2014.9 732.2 2015.1 732.0 2015.3 731.8 2015.5 731.6 2015.8 731.4 2016.0 731.2 2016.2 731.0 2016.4 730.8 2016.6 730.6 2016.8 730.4 2017.0 730.2 2017.2 730.0 2017.4 729.8 2017.6 729.6 2017.8 729.4 2018.0 729.2 2018.2 729.0 2018.4 728.8 2018.6 728.6 2018.8 728.4 2019.0 728.2 2019.2 728.0 2019.4 727.8 2019.6 727.6 2019.8 727.4 2020.0 727.2 2020.2 727.0 2020.4 726.8 2020.6 726.6 2020.8 726.4 2021.0 726.2 2021.2 726.0 2021.4 725.7 2021.6 725.5 2021.8 725.3 2022.0 725.1 2022.2 724.9 2022.4 724.7 2022.6 724.5 2022.8 724.3 2023.0 724.0 2023.2 723.8 2023.4 723.6 2023.6 723.4 2023.8 723.2 2024.0 722.9 2024.2 722.7 2024.4 722.5 2024.6 722.3 2024.8 722.0 2025.0 721.8 2025.2 721.6 2025.4 721.4 2025.6 721.1 2025.8 720.9 2026.0 720.7 2026.2 720.4 2026.4 720.2 2026.6 720.0 2026.8 719.7 2027.0 719.5 2027.2 719.3 2027.4 719.0 2027.6 718.8 2027.8 718.6 2027.9 718.3 2028.1 718.1 2028.3 717.8 2028.5 717.6 2028.7 717.4 2028.9 717.1 2029.1 716.9 2029.3 716.7 2029.5 716.4 2029.7 716.2 2029.9 715.9 2030.1 715.7 2030.3 715.5 2030.5 715.2 2030.7 715.0 2030.9 714.7 2031.0 714.5 2031.2 714.2 2031.4 714.0 2031.6 713.8 2031.8 713.5 2032.0 713.3 2032.2 713.0 2032.4 712.8 2032.6 712.5 2032.8 712.3 2033.0 712.1" fill="none" stroke="none" marker-start="url(#md)" marker-mid="url(#md)" marker-end="url(#md)"/>
<rect x="273" y="58" width="1882" height="6" fill="#000"/><rect x="273" y="1446" width="1882" height="9" fill="#000"/><rect x="273" y="58" width="9" height="1397" fill="#000"/><rect x="2146" y="58" width="9" height="1397" fill="#000"/><rect x="394" y="1432" width="6" height="14" fill="#000"/><rect x="925" y="1432" width="6" height="14" fill="#000"/><rect x="1455" y="1432" width="6" height="14" fill="#000"/><rect x="1986" y="1432" width="6" height="14" fill="#000"/><rect x="282" y="406.15" width="17" height="5.5" fill="#000"/><rect x="282" y="753.85" width="17" height="5.5" fill="#000"/><rect x="282" y="1101.45" width="17" height="5.5" fill="#000"/>
<text transform="translate(147.23 84.40) scale(0.7001 1.0049)" font-size="71.0">1</text><text transform="translate(184.47 86.67) scale(0.9737 1.0457)" font-size="71.0">0</text><text transform="translate(215.85 48.70) scale(0.6151 0.6826)" font-size="71.0">4</text><text transform="translate(145.01 425.70) scale(1.0562 0.9942)" font-size="71.0">1</text><text transform="translate(184.25 428.09) scale(0.9803 1.0290)" font-size="71.0">0</text><text transform="translate(217.49 390.33) scale(0.6785 0.6750)" font-size="71.0">3</text><text transform="translate(139.31 773.70) scale(1.0402 0.9942)" font-size="71.0">1</text><text transform="translate(178.46 775.69) scale(0.9770 1.0290)" font-size="71.0">0</text><text transform="translate(211.79 738.70) scale(0.7097 0.6913)" font-size="71.0">2</text><text transform="translate(139.21 1118.80) scale(1.0562 1.0006)" font-size="71.0">1</text><text transform="translate(175.65 1120.29) scale(0.9803 1.0248)" font-size="71.0">0</text><text transform="translate(209.23 1083.50) scale(0.7001 0.6870)" font-size="71.0">1</text><text transform="translate(139.11 1460.70) scale(1.0562 0.9985)" font-size="71.0">1</text><text transform="translate(175.72 1462.89) scale(1.0667 1.0290)" font-size="71.0">0</text><text transform="translate(212.07 1425.23) scale(0.6779 0.6783)" font-size="71.0">0</text><text transform="translate(348.11 1534.30) scale(0.7041 0.9963)" font-size="71.0">1</text><text transform="translate(385.69 1536.78) scale(0.9670 1.0352)" font-size="71.0">0</text><text transform="translate(418.78 1489.78) scale(0.6713 0.6053)" font-size="71.0">0</text><text transform="translate(879.86 1534.50) scale(0.7121 1.0028)" font-size="71.0">1</text><text transform="translate(917.38 1536.78) scale(0.9704 1.0373)" font-size="71.0">0</text><text transform="translate(951.46 1490.50) scale(0.5841 0.6230)" font-size="71.0">1</text><text transform="translate(1411.73 1534.50) scale(0.7001 1.0028)" font-size="71.0">1</text><text transform="translate(1448.85 1536.78) scale(0.9803 1.0436)" font-size="71.0">0</text><text transform="translate(1481.61 1490.80) scale(0.7343 0.6339)" font-size="71.0">2</text><text transform="translate(1943.46 1534.50) scale(0.7121 0.9963)" font-size="71.0">1</text><text transform="translate(1977.06 1536.78) scale(1.0867 1.0373)" font-size="71.0">0</text><text transform="translate(2013.63 1490.37) scale(0.6103 0.6247)" font-size="71.0">3</text><text x="740.3" y="1646.5" font-size="71" textLength="947" lengthAdjust="spacingAndGlyphs">Magnetic Field Strength (A/m)</text><text transform="translate(92.5 1135.6) rotate(-90)" x="0" y="0" font-size="72" textLength="721" lengthAdjust="spacingAndGlyphs">Storage Modulus (Kpa)</text><text transform="translate(625.86 287.60) scale(1.0213 1.0088)" font-size="71.0" font-weight="bold">P</text><text transform="translate(670.60 289.11) scale(1.0245 1.0312)" font-size="71.0" font-weight="bold">u</text><text transform="translate(711.53 287.60) scale(0.9295 0.9546)" font-size="71.0" font-weight="bold">r</text><text transform="translate(739.75 289.33) scale(1.0899 1.0134)" font-size="71.0" font-weight="bold">e</text><text transform="translate(792.31 289.28) scale(1.0354 1.0335)" font-size="71.0" font-weight="bold">C</text><text transform="translate(840.97 287.60) scale(1.0155 1.0088)" font-size="71.0" font-weight="bold">I</text><text transform="translate(463.85 681.64) scale(1.0519 1.0922)" font-size="71.0" font-weight="bold">C</text><text transform="translate(515.09 679.60) scale(1.0505 1.0024)" font-size="71.0" font-weight="bold">I</text><text transform="translate(539.18 672.50) scale(0.8410 0.7339)" font-size="71.0" font-weight="bold">@</text><text transform="translate(594.09 679.60) scale(0.8308 1.0024)" font-size="71.0" font-weight="bold">F</text><text transform="translate(630.88 681.72) scale(1.0789 1.0281)" font-size="71.0" font-weight="bold">e</text><text transform="translate(664.14 705.33) scale(0.5855 0.5325)" font-size="71.0" font-weight="bold">3</text><text transform="translate(685.36 681.64) scale(1.0499 1.0922)" font-size="71.0" font-weight="bold">O</text><text transform="translate(743.56 706.40) scale(0.5570 0.5585)" font-size="71.0" font-weight="bold">4</text><text transform="translate(759.56 672.50) scale(0.8188 0.7339)" font-size="71.0" font-weight="bold">@</text><text transform="translate(812.66 681.64) scale(0.9916 1.0922)" font-size="71.0" font-weight="bold">G</text><text transform="translate(866.61 672.50) scale(0.8068 0.7339)" font-size="71.0" font-weight="bold">@</text><text transform="translate(919.51 681.64) scale(1.0057 1.0922)" font-size="71.0" font-weight="bold">G</text><text transform="translate(978.40 681.64) scale(1.0374 1.0922)" font-size="71.0" font-weight="bold">O</text><text transform="translate(543.38 873.58) scale(1.0448 1.0419)" font-size="71.0" font-weight="bold">C</text><text transform="translate(592.38 873.80) scale(1.0111 1.0583)" font-size="71.0" font-weight="bold">I</text><text transform="translate(618.41 864.49) scale(0.8068 0.7273)" font-size="71.0" font-weight="bold">@</text><text transform="translate(670.60 873.80) scale(0.9082 1.0583)" font-size="71.0" font-weight="bold">F</text><text transform="translate(707.25 873.62) scale(1.0899 1.0340)" font-size="71.0" font-weight="bold">e</text><text transform="translate(741.28 900.09) scale(0.6447 0.5912)" font-size="71.0" font-weight="bold">3</text><text transform="translate(762.52 873.58) scale(1.0312 1.0419)" font-size="71.0" font-weight="bold">O</text><text transform="translate(821.49 901.00) scale(0.5269 0.6248)" font-size="71.0" font-weight="bold">4</text><text transform="translate(836.91 864.49) scale(0.8324 0.7273)" font-size="71.0" font-weight="bold">@</text><text transform="translate(889.83 873.58) scale(0.9996 1.0419)" font-size="71.0" font-weight="bold">G</text><text transform="translate(655.98 1136.17) scale(1.0448 1.0544)" font-size="71.0" font-weight="bold">C</text><text transform="translate(707.43 1136.40) scale(1.0330 0.9959)" font-size="71.0" font-weight="bold">I</text><text transform="translate(730.88 1127.18) scale(0.8410 0.7207)" font-size="71.0" font-weight="bold">@</text><text transform="translate(783.87 1136.17) scale(0.9896 1.0544)" font-size="71.0" font-weight="bold">G</text>
</svg>
</body></html>
